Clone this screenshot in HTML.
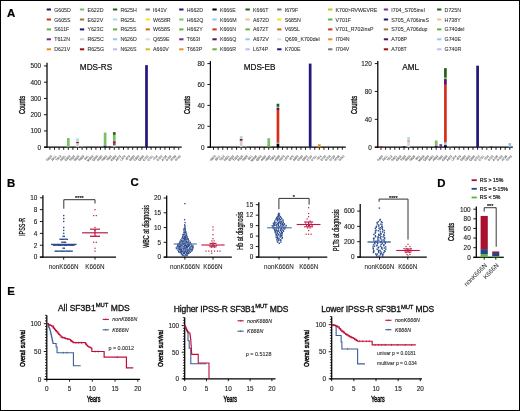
<!DOCTYPE html>
<html><head><meta charset="utf-8"><style>
html,body{margin:0;padding:0;background:#fff;}
svg{display:block;font-family:"Liberation Sans", sans-serif;will-change:transform;}
</style></head><body>
<svg width="520" height="411" viewBox="0 0 520 411" font-family='"Liberation Sans", sans-serif'>
<rect x="0" y="0" width="520" height="411" fill="#fff"/>
<g>
<rect x="0.5" y="0.5" width="519" height="410" fill="#fff" stroke="#000" stroke-width="1"/>
<text x="7.00" y="16.50" font-size="11.4" text-anchor="start" fill="#000" font-weight="bold" stroke="#000" stroke-width="0.22" >A</text>
<text x="7.00" y="186.60" font-size="11.4" text-anchor="start" fill="#000" font-weight="bold" stroke="#000" stroke-width="0.22" >B</text>
<text x="130.40" y="186.40" font-size="11.4" text-anchor="start" fill="#000" font-weight="bold" stroke="#000" stroke-width="0.22" >C</text>
<text x="437.20" y="187.00" font-size="11.4" text-anchor="start" fill="#000" font-weight="bold" stroke="#000" stroke-width="0.22" >D</text>
<text x="7.30" y="294.80" font-size="11.4" text-anchor="start" fill="#000" font-weight="bold" stroke="#000" stroke-width="0.22" >E</text>
<rect x="46.70" y="8.50" width="4.30" height="2.00" fill="#22177a"/>
<text x="54.20" y="11.50" font-size="5.25" text-anchor="start" fill="#2a2a2a" font-weight="normal" stroke="#2a2a2a" stroke-width="0.06" >G605D</text>
<rect x="46.70" y="18.50" width="4.30" height="2.00" fill="#d6301c"/>
<text x="54.20" y="21.50" font-size="5.25" text-anchor="start" fill="#2a2a2a" font-weight="normal" stroke="#2a2a2a" stroke-width="0.06" >G605S</text>
<rect x="46.70" y="28.40" width="4.30" height="2.00" fill="#62b23e"/>
<text x="54.20" y="31.40" font-size="5.25" text-anchor="start" fill="#2a2a2a" font-weight="normal" stroke="#2a2a2a" stroke-width="0.06" >S611F</text>
<rect x="46.70" y="38.30" width="4.30" height="2.00" fill="#7a2c9c"/>
<text x="54.20" y="41.30" font-size="5.25" text-anchor="start" fill="#2a2a2a" font-weight="normal" stroke="#2a2a2a" stroke-width="0.06" >T612N</text>
<rect x="46.70" y="48.30" width="4.30" height="2.00" fill="#e8901c"/>
<text x="54.20" y="51.30" font-size="5.25" text-anchor="start" fill="#2a2a2a" font-weight="normal" stroke="#2a2a2a" stroke-width="0.06" >D621V</text>
<rect x="79.90" y="8.50" width="4.30" height="2.00" fill="#7cc064"/>
<text x="87.40" y="11.50" font-size="5.25" text-anchor="start" fill="#2a2a2a" font-weight="normal" stroke="#2a2a2a" stroke-width="0.06" >E622D</text>
<rect x="79.90" y="18.50" width="4.30" height="2.00" fill="#a0783a"/>
<text x="87.40" y="21.50" font-size="5.25" text-anchor="start" fill="#2a2a2a" font-weight="normal" stroke="#2a2a2a" stroke-width="0.06" >E622V</text>
<rect x="79.90" y="28.40" width="4.30" height="2.00" fill="#22177a"/>
<text x="87.40" y="31.40" font-size="5.25" text-anchor="start" fill="#2a2a2a" font-weight="normal" stroke="#2a2a2a" stroke-width="0.06" >Y623C</text>
<rect x="79.90" y="38.30" width="4.30" height="2.00" fill="#cfcfcf"/>
<text x="87.40" y="41.30" font-size="5.25" text-anchor="start" fill="#2a2a2a" font-weight="normal" stroke="#2a2a2a" stroke-width="0.06" >R625C</text>
<rect x="79.90" y="48.30" width="4.30" height="2.00" fill="#960f0f"/>
<text x="87.40" y="51.30" font-size="5.25" text-anchor="start" fill="#2a2a2a" font-weight="normal" stroke="#2a2a2a" stroke-width="0.06" >R625G</text>
<rect x="112.90" y="8.50" width="4.30" height="2.00" fill="#25601c"/>
<text x="120.40" y="11.50" font-size="5.25" text-anchor="start" fill="#2a2a2a" font-weight="normal" stroke="#2a2a2a" stroke-width="0.06" >R625H</text>
<rect x="112.90" y="18.50" width="4.30" height="2.00" fill="#a9dde6"/>
<text x="120.40" y="21.50" font-size="5.25" text-anchor="start" fill="#2a2a2a" font-weight="normal" stroke="#2a2a2a" stroke-width="0.06" >R625L</text>
<rect x="112.90" y="28.40" width="4.30" height="2.00" fill="#62b23e"/>
<text x="120.40" y="31.40" font-size="5.25" text-anchor="start" fill="#2a2a2a" font-weight="normal" stroke="#2a2a2a" stroke-width="0.06" >R625S</text>
<rect x="112.90" y="38.30" width="4.30" height="2.00" fill="#9cc2ee"/>
<text x="120.40" y="41.30" font-size="5.25" text-anchor="start" fill="#2a2a2a" font-weight="normal" stroke="#2a2a2a" stroke-width="0.06" >N626D</text>
<rect x="112.90" y="48.30" width="4.30" height="2.00" fill="#bdbdf0"/>
<text x="120.40" y="51.30" font-size="5.25" text-anchor="start" fill="#2a2a2a" font-weight="normal" stroke="#2a2a2a" stroke-width="0.06" >N626S</text>
<rect x="145.60" y="8.50" width="4.30" height="2.00" fill="#777777"/>
<text x="153.10" y="11.50" font-size="5.25" text-anchor="start" fill="#2a2a2a" font-weight="normal" stroke="#2a2a2a" stroke-width="0.06" >I641V</text>
<rect x="145.60" y="18.50" width="4.30" height="2.00" fill="#f4e214"/>
<text x="153.10" y="21.50" font-size="5.25" text-anchor="start" fill="#2a2a2a" font-weight="normal" stroke="#2a2a2a" stroke-width="0.06" >W658R</text>
<rect x="145.60" y="28.40" width="4.30" height="2.00" fill="#c4701e"/>
<text x="153.10" y="31.40" font-size="5.25" text-anchor="start" fill="#2a2a2a" font-weight="normal" stroke="#2a2a2a" stroke-width="0.06" >W658S</text>
<rect x="145.60" y="38.30" width="4.30" height="2.00" fill="#dddddd"/>
<text x="153.10" y="41.30" font-size="5.25" text-anchor="start" fill="#2a2a2a" font-weight="normal" stroke="#2a2a2a" stroke-width="0.06" >Q659E</text>
<rect x="145.60" y="48.30" width="4.30" height="2.00" fill="#c8c21e"/>
<text x="153.10" y="51.30" font-size="5.25" text-anchor="start" fill="#2a2a2a" font-weight="normal" stroke="#2a2a2a" stroke-width="0.06" >A660V</text>
<rect x="179.20" y="8.50" width="4.30" height="2.00" fill="#22177a"/>
<text x="186.70" y="11.50" font-size="5.25" text-anchor="start" fill="#2a2a2a" font-weight="normal" stroke="#2a2a2a" stroke-width="0.06" >H662D</text>
<rect x="179.20" y="18.50" width="4.30" height="2.00" fill="#7cc064"/>
<text x="186.70" y="21.50" font-size="5.25" text-anchor="start" fill="#2a2a2a" font-weight="normal" stroke="#2a2a2a" stroke-width="0.06" >H662Q</text>
<rect x="179.20" y="28.40" width="4.30" height="2.00" fill="#62b23e"/>
<text x="186.70" y="31.40" font-size="5.25" text-anchor="start" fill="#2a2a2a" font-weight="normal" stroke="#2a2a2a" stroke-width="0.06" >H662Y</text>
<rect x="179.20" y="38.30" width="4.30" height="2.00" fill="#7a2c9c"/>
<text x="186.70" y="41.30" font-size="5.25" text-anchor="start" fill="#2a2a2a" font-weight="normal" stroke="#2a2a2a" stroke-width="0.06" >T663I</text>
<rect x="179.20" y="48.30" width="4.30" height="2.00" fill="#e8901c"/>
<text x="186.70" y="51.30" font-size="5.25" text-anchor="start" fill="#2a2a2a" font-weight="normal" stroke="#2a2a2a" stroke-width="0.06" >T663P</text>
<rect x="212.40" y="8.50" width="4.30" height="2.00" fill="#000000"/>
<text x="219.90" y="11.50" font-size="5.25" text-anchor="start" fill="#2a2a2a" font-weight="normal" stroke="#2a2a2a" stroke-width="0.06" >K666E</text>
<rect x="212.40" y="18.50" width="4.30" height="2.00" fill="#8ccaf2"/>
<text x="219.90" y="21.50" font-size="5.25" text-anchor="start" fill="#2a2a2a" font-weight="normal" stroke="#2a2a2a" stroke-width="0.06" >K666M</text>
<rect x="212.40" y="28.40" width="4.30" height="2.00" fill="#d6301c"/>
<text x="219.90" y="31.40" font-size="5.25" text-anchor="start" fill="#2a2a2a" font-weight="normal" stroke="#2a2a2a" stroke-width="0.06" >K666N</text>
<rect x="212.40" y="38.30" width="4.30" height="2.00" fill="#5a0f6a"/>
<text x="219.90" y="41.30" font-size="5.25" text-anchor="start" fill="#2a2a2a" font-weight="normal" stroke="#2a2a2a" stroke-width="0.06" >K666Q</text>
<rect x="212.40" y="48.30" width="4.30" height="2.00" fill="#62b23e"/>
<text x="219.90" y="51.30" font-size="5.25" text-anchor="start" fill="#2a2a2a" font-weight="normal" stroke="#2a2a2a" stroke-width="0.06" >K666R</text>
<rect x="245.50" y="8.50" width="4.30" height="2.00" fill="#25601c"/>
<text x="253.00" y="11.50" font-size="5.25" text-anchor="start" fill="#2a2a2a" font-weight="normal" stroke="#2a2a2a" stroke-width="0.06" >K666T</text>
<rect x="245.50" y="18.50" width="4.30" height="2.00" fill="#f2c28e"/>
<text x="253.00" y="21.50" font-size="5.25" text-anchor="start" fill="#2a2a2a" font-weight="normal" stroke="#2a2a2a" stroke-width="0.06" >A672D</text>
<rect x="245.50" y="28.40" width="4.30" height="2.00" fill="#62b23e"/>
<text x="253.00" y="31.40" font-size="5.25" text-anchor="start" fill="#2a2a2a" font-weight="normal" stroke="#2a2a2a" stroke-width="0.06" >A672T</text>
<rect x="245.50" y="38.30" width="4.30" height="2.00" fill="#9cc2ee"/>
<text x="253.00" y="41.30" font-size="5.25" text-anchor="start" fill="#2a2a2a" font-weight="normal" stroke="#2a2a2a" stroke-width="0.06" >A672V</text>
<rect x="245.50" y="48.30" width="4.30" height="2.00" fill="#bdbdf0"/>
<text x="253.00" y="51.30" font-size="5.25" text-anchor="start" fill="#2a2a2a" font-weight="normal" stroke="#2a2a2a" stroke-width="0.06" >L674P</text>
<rect x="277.20" y="8.50" width="4.30" height="2.00" fill="#777777"/>
<text x="284.70" y="11.50" font-size="5.25" text-anchor="start" fill="#2a2a2a" font-weight="normal" stroke="#2a2a2a" stroke-width="0.06" >I679F</text>
<rect x="277.20" y="18.50" width="4.30" height="2.00" fill="#f4e214"/>
<text x="284.70" y="21.50" font-size="5.25" text-anchor="start" fill="#2a2a2a" font-weight="normal" stroke="#2a2a2a" stroke-width="0.06" >S685N</text>
<rect x="277.20" y="28.40" width="4.30" height="2.00" fill="#c4701e"/>
<text x="284.70" y="31.40" font-size="5.25" text-anchor="start" fill="#2a2a2a" font-weight="normal" stroke="#2a2a2a" stroke-width="0.06" >V695L</text>
<rect x="277.20" y="38.30" width="4.30" height="2.00" fill="#dddddd"/>
<text x="284.70" y="41.30" font-size="5.25" text-anchor="start" fill="#2a2a2a" font-weight="normal" stroke="#2a2a2a" stroke-width="0.06" >Q699_K700del</text>
<rect x="277.20" y="48.30" width="4.30" height="2.00" fill="#22177a"/>
<text x="284.70" y="51.30" font-size="5.25" text-anchor="start" fill="#2a2a2a" font-weight="normal" stroke="#2a2a2a" stroke-width="0.06" >K700E</text>
<rect x="328.10" y="8.50" width="4.30" height="2.00" fill="#c8c21e"/>
<text x="335.60" y="11.50" font-size="5.25" text-anchor="start" fill="#2a2a2a" font-weight="normal" stroke="#2a2a2a" stroke-width="0.06" >K700&gt;RVWEVRE</text>
<rect x="328.10" y="18.50" width="4.30" height="2.00" fill="#62b23e"/>
<text x="335.60" y="21.50" font-size="5.25" text-anchor="start" fill="#2a2a2a" font-weight="normal" stroke="#2a2a2a" stroke-width="0.06" >V701F</text>
<rect x="328.10" y="28.40" width="4.30" height="2.00" fill="#d6301c"/>
<text x="335.60" y="31.40" font-size="5.25" text-anchor="start" fill="#2a2a2a" font-weight="normal" stroke="#2a2a2a" stroke-width="0.06" >V701_R702insP</text>
<rect x="328.10" y="38.30" width="4.30" height="2.00" fill="#e8901c"/>
<text x="335.60" y="41.30" font-size="5.25" text-anchor="start" fill="#2a2a2a" font-weight="normal" stroke="#2a2a2a" stroke-width="0.06" >I704N</text>
<rect x="328.10" y="48.30" width="4.30" height="2.00" fill="#777777"/>
<text x="335.60" y="51.30" font-size="5.25" text-anchor="start" fill="#2a2a2a" font-weight="normal" stroke="#2a2a2a" stroke-width="0.06" >I704V</text>
<rect x="383.80" y="8.50" width="4.30" height="2.00" fill="#7a2c9c"/>
<text x="391.30" y="11.50" font-size="5.25" text-anchor="start" fill="#2a2a2a" font-weight="normal" stroke="#2a2a2a" stroke-width="0.06" >I704_S705insI</text>
<rect x="383.80" y="18.50" width="4.30" height="2.00" fill="#22177a"/>
<text x="391.30" y="21.50" font-size="5.25" text-anchor="start" fill="#2a2a2a" font-weight="normal" stroke="#2a2a2a" stroke-width="0.06" >S705_A706insS</text>
<rect x="383.80" y="28.40" width="4.30" height="2.00" fill="#a0783a"/>
<text x="391.30" y="31.40" font-size="5.25" text-anchor="start" fill="#2a2a2a" font-weight="normal" stroke="#2a2a2a" stroke-width="0.06" >S705_A706dup</text>
<rect x="383.80" y="38.30" width="4.30" height="2.00" fill="#5a0f6a"/>
<text x="391.30" y="41.30" font-size="5.25" text-anchor="start" fill="#2a2a2a" font-weight="normal" stroke="#2a2a2a" stroke-width="0.06" >A708P</text>
<rect x="383.80" y="48.30" width="4.30" height="2.00" fill="#960f0f"/>
<text x="391.30" y="51.30" font-size="5.25" text-anchor="start" fill="#2a2a2a" font-weight="normal" stroke="#2a2a2a" stroke-width="0.06" >A708T</text>
<rect x="437.10" y="8.50" width="4.30" height="2.00" fill="#25601c"/>
<text x="444.60" y="11.50" font-size="5.25" text-anchor="start" fill="#2a2a2a" font-weight="normal" stroke="#2a2a2a" stroke-width="0.06" >D725N</text>
<rect x="437.10" y="18.50" width="4.30" height="2.00" fill="#f2c28e"/>
<text x="444.60" y="21.50" font-size="5.25" text-anchor="start" fill="#2a2a2a" font-weight="normal" stroke="#2a2a2a" stroke-width="0.06" >H738Y</text>
<rect x="437.10" y="28.40" width="4.30" height="2.00" fill="#62b23e"/>
<text x="444.60" y="31.40" font-size="5.25" text-anchor="start" fill="#2a2a2a" font-weight="normal" stroke="#2a2a2a" stroke-width="0.06" >G740del</text>
<rect x="437.10" y="38.30" width="4.30" height="2.00" fill="#9cc2ee"/>
<text x="444.60" y="41.30" font-size="5.25" text-anchor="start" fill="#2a2a2a" font-weight="normal" stroke="#2a2a2a" stroke-width="0.06" >G740E</text>
<rect x="437.10" y="48.30" width="4.30" height="2.00" fill="#bdbdf0"/>
<text x="444.60" y="51.30" font-size="5.25" text-anchor="start" fill="#2a2a2a" font-weight="normal" stroke="#2a2a2a" stroke-width="0.06" >G740R</text>
<line x1="47.00" y1="62.80" x2="47.00" y2="147.70" stroke="#000" stroke-width="1.25" />
<line x1="44.00" y1="147.20" x2="47.00" y2="147.20" stroke="#000" stroke-width="0.9" />
<text x="41.10" y="149.60" font-size="6.4" text-anchor="end" fill="#222" font-weight="normal" stroke="#222" stroke-width="0.12" >0</text>
<line x1="44.00" y1="130.95" x2="47.00" y2="130.95" stroke="#000" stroke-width="0.9" />
<text x="41.10" y="133.35" font-size="6.4" text-anchor="end" fill="#222" font-weight="normal" stroke="#222" stroke-width="0.12" >100</text>
<line x1="44.00" y1="114.70" x2="47.00" y2="114.70" stroke="#000" stroke-width="0.9" />
<text x="41.10" y="117.10" font-size="6.4" text-anchor="end" fill="#222" font-weight="normal" stroke="#222" stroke-width="0.12" >200</text>
<line x1="44.00" y1="98.45" x2="47.00" y2="98.45" stroke="#000" stroke-width="0.9" />
<text x="41.10" y="100.85" font-size="6.4" text-anchor="end" fill="#222" font-weight="normal" stroke="#222" stroke-width="0.12" >300</text>
<line x1="44.00" y1="82.20" x2="47.00" y2="82.20" stroke="#000" stroke-width="0.9" />
<text x="41.10" y="84.60" font-size="6.4" text-anchor="end" fill="#222" font-weight="normal" stroke="#222" stroke-width="0.12" >400</text>
<line x1="44.00" y1="65.95" x2="47.00" y2="65.95" stroke="#000" stroke-width="0.9" />
<text x="41.10" y="68.35" font-size="6.4" text-anchor="end" fill="#222" font-weight="normal" stroke="#222" stroke-width="0.12" >500</text>
<line x1="44.00" y1="147.20" x2="181.70" y2="147.20" stroke="#000" stroke-width="1.25" />
<line x1="49.90" y1="147.20" x2="49.90" y2="149.80" stroke="#000" stroke-width="0.9" />
<text transform="translate(52.10,156.50) rotate(-45)" x="0" y="0" font-size="2.8" text-anchor="end" fill="#666" stroke="#666" stroke-width="0.12">G605</text>
<line x1="54.50" y1="147.20" x2="54.50" y2="149.80" stroke="#000" stroke-width="0.9" />
<text transform="translate(56.70,156.50) rotate(-45)" x="0" y="0" font-size="2.8" text-anchor="end" fill="#666" stroke="#666" stroke-width="0.12">S611</text>
<line x1="59.10" y1="147.20" x2="59.10" y2="149.80" stroke="#000" stroke-width="0.9" />
<text transform="translate(61.30,156.50) rotate(-45)" x="0" y="0" font-size="2.8" text-anchor="end" fill="#666" stroke="#666" stroke-width="0.12">T612</text>
<line x1="63.70" y1="147.20" x2="63.70" y2="149.80" stroke="#000" stroke-width="0.9" />
<text transform="translate(65.90,156.50) rotate(-45)" x="0" y="0" font-size="2.8" text-anchor="end" fill="#666" stroke="#666" stroke-width="0.12">D621</text>
<line x1="68.30" y1="147.20" x2="68.30" y2="149.80" stroke="#000" stroke-width="0.9" />
<text transform="translate(70.50,156.50) rotate(-45)" x="0" y="0" font-size="2.8" text-anchor="end" fill="#666" stroke="#666" stroke-width="0.12">E622</text>
<line x1="72.90" y1="147.20" x2="72.90" y2="149.80" stroke="#000" stroke-width="0.9" />
<text transform="translate(75.10,156.50) rotate(-45)" x="0" y="0" font-size="2.8" text-anchor="end" fill="#666" stroke="#666" stroke-width="0.12">Y623</text>
<line x1="77.50" y1="147.20" x2="77.50" y2="149.80" stroke="#000" stroke-width="0.9" />
<text transform="translate(79.70,156.50) rotate(-45)" x="0" y="0" font-size="2.8" text-anchor="end" fill="#666" stroke="#666" stroke-width="0.12">R625</text>
<line x1="82.10" y1="147.20" x2="82.10" y2="149.80" stroke="#000" stroke-width="0.9" />
<text transform="translate(84.30,156.50) rotate(-45)" x="0" y="0" font-size="2.8" text-anchor="end" fill="#666" stroke="#666" stroke-width="0.12">N626</text>
<line x1="86.70" y1="147.20" x2="86.70" y2="149.80" stroke="#000" stroke-width="0.9" />
<text transform="translate(88.90,156.50) rotate(-45)" x="0" y="0" font-size="2.8" text-anchor="end" fill="#666" stroke="#666" stroke-width="0.12">I641</text>
<line x1="91.30" y1="147.20" x2="91.30" y2="149.80" stroke="#000" stroke-width="0.9" />
<text transform="translate(93.50,156.50) rotate(-45)" x="0" y="0" font-size="2.8" text-anchor="end" fill="#666" stroke="#666" stroke-width="0.12">W658</text>
<line x1="95.90" y1="147.20" x2="95.90" y2="149.80" stroke="#000" stroke-width="0.9" />
<text transform="translate(98.10,156.50) rotate(-45)" x="0" y="0" font-size="2.8" text-anchor="end" fill="#666" stroke="#666" stroke-width="0.12">Q659</text>
<line x1="100.50" y1="147.20" x2="100.50" y2="149.80" stroke="#000" stroke-width="0.9" />
<text transform="translate(102.70,156.50) rotate(-45)" x="0" y="0" font-size="2.8" text-anchor="end" fill="#666" stroke="#666" stroke-width="0.12">A660</text>
<line x1="105.10" y1="147.20" x2="105.10" y2="149.80" stroke="#000" stroke-width="0.9" />
<text transform="translate(107.30,156.50) rotate(-45)" x="0" y="0" font-size="2.8" text-anchor="end" fill="#666" stroke="#666" stroke-width="0.12">H662</text>
<line x1="109.70" y1="147.20" x2="109.70" y2="149.80" stroke="#000" stroke-width="0.9" />
<text transform="translate(111.90,156.50) rotate(-45)" x="0" y="0" font-size="2.8" text-anchor="end" fill="#666" stroke="#666" stroke-width="0.12">T663</text>
<line x1="114.30" y1="147.20" x2="114.30" y2="149.80" stroke="#000" stroke-width="0.9" />
<text transform="translate(116.50,156.50) rotate(-45)" x="0" y="0" font-size="2.8" text-anchor="end" fill="#666" stroke="#666" stroke-width="0.12">K666</text>
<line x1="118.90" y1="147.20" x2="118.90" y2="149.80" stroke="#000" stroke-width="0.9" />
<text transform="translate(121.10,156.50) rotate(-45)" x="0" y="0" font-size="2.8" text-anchor="end" fill="#666" stroke="#666" stroke-width="0.12">A672</text>
<line x1="123.50" y1="147.20" x2="123.50" y2="149.80" stroke="#000" stroke-width="0.9" />
<text transform="translate(125.70,156.50) rotate(-45)" x="0" y="0" font-size="2.8" text-anchor="end" fill="#666" stroke="#666" stroke-width="0.12">L674</text>
<line x1="128.10" y1="147.20" x2="128.10" y2="149.80" stroke="#000" stroke-width="0.9" />
<text transform="translate(130.30,156.50) rotate(-45)" x="0" y="0" font-size="2.8" text-anchor="end" fill="#666" stroke="#666" stroke-width="0.12">I679</text>
<line x1="132.70" y1="147.20" x2="132.70" y2="149.80" stroke="#000" stroke-width="0.9" />
<text transform="translate(134.90,156.50) rotate(-45)" x="0" y="0" font-size="2.8" text-anchor="end" fill="#666" stroke="#666" stroke-width="0.12">S685</text>
<line x1="137.30" y1="147.20" x2="137.30" y2="149.80" stroke="#000" stroke-width="0.9" />
<text transform="translate(139.50,156.50) rotate(-45)" x="0" y="0" font-size="2.8" text-anchor="end" fill="#666" stroke="#666" stroke-width="0.12">V695</text>
<line x1="141.90" y1="147.20" x2="141.90" y2="149.80" stroke="#000" stroke-width="0.9" />
<text transform="translate(144.10,156.50) rotate(-45)" x="0" y="0" font-size="2.8" text-anchor="end" fill="#666" stroke="#666" stroke-width="0.12">Q699</text>
<line x1="146.50" y1="147.20" x2="146.50" y2="149.80" stroke="#000" stroke-width="0.9" />
<text transform="translate(148.70,156.50) rotate(-45)" x="0" y="0" font-size="2.8" text-anchor="end" fill="#666" stroke="#666" stroke-width="0.12">K700</text>
<line x1="151.10" y1="147.20" x2="151.10" y2="149.80" stroke="#000" stroke-width="0.9" />
<text transform="translate(153.30,156.50) rotate(-45)" x="0" y="0" font-size="2.8" text-anchor="end" fill="#666" stroke="#666" stroke-width="0.12">V701</text>
<line x1="155.70" y1="147.20" x2="155.70" y2="149.80" stroke="#000" stroke-width="0.9" />
<text transform="translate(157.90,156.50) rotate(-45)" x="0" y="0" font-size="2.8" text-anchor="end" fill="#666" stroke="#666" stroke-width="0.12">I704</text>
<line x1="160.30" y1="147.20" x2="160.30" y2="149.80" stroke="#000" stroke-width="0.9" />
<text transform="translate(162.50,156.50) rotate(-45)" x="0" y="0" font-size="2.8" text-anchor="end" fill="#666" stroke="#666" stroke-width="0.12">S705</text>
<line x1="164.90" y1="147.20" x2="164.90" y2="149.80" stroke="#000" stroke-width="0.9" />
<text transform="translate(167.10,156.50) rotate(-45)" x="0" y="0" font-size="2.8" text-anchor="end" fill="#666" stroke="#666" stroke-width="0.12">A708</text>
<line x1="169.50" y1="147.20" x2="169.50" y2="149.80" stroke="#000" stroke-width="0.9" />
<text transform="translate(171.70,156.50) rotate(-45)" x="0" y="0" font-size="2.8" text-anchor="end" fill="#666" stroke="#666" stroke-width="0.12">D725</text>
<line x1="174.10" y1="147.20" x2="174.10" y2="149.80" stroke="#000" stroke-width="0.9" />
<text transform="translate(176.30,156.50) rotate(-45)" x="0" y="0" font-size="2.8" text-anchor="end" fill="#666" stroke="#666" stroke-width="0.12">H738</text>
<line x1="178.70" y1="147.20" x2="178.70" y2="149.80" stroke="#000" stroke-width="0.9" />
<text transform="translate(180.90,156.50) rotate(-45)" x="0" y="0" font-size="2.8" text-anchor="end" fill="#666" stroke="#666" stroke-width="0.12">G740</text>
<rect x="66.95" y="138.10" width="2.70" height="9.10" fill="#7cc064"/>
<rect x="76.15" y="143.14" width="2.70" height="4.06" fill="#cfcfcf"/>
<rect x="76.15" y="142.00" width="2.70" height="1.14" fill="#960f0f"/>
<rect x="76.15" y="138.43" width="2.70" height="3.58" fill="#a9dde6"/>
<rect x="80.75" y="146.55" width="2.70" height="0.65" fill="#9cc2ee"/>
<rect x="103.75" y="145.57" width="2.70" height="1.62" fill="#22177a"/>
<rect x="103.75" y="132.57" width="2.70" height="13.00" fill="#7cc064"/>
<rect x="108.35" y="146.55" width="2.70" height="0.65" fill="#960f0f"/>
<rect x="112.95" y="145.01" width="2.70" height="2.19" fill="#8ccaf2"/>
<rect x="112.95" y="142.89" width="2.70" height="2.11" fill="#d6301c"/>
<rect x="112.95" y="141.19" width="2.70" height="1.71" fill="#5a0f6a"/>
<rect x="112.95" y="134.85" width="2.70" height="6.34" fill="#7cc064"/>
<rect x="112.95" y="132.15" width="2.70" height="2.70" fill="#25601c"/>
<rect x="145.15" y="65.14" width="2.70" height="82.06" fill="#22177a"/>
<rect x="177.35" y="146.71" width="2.70" height="0.49" fill="#9cc2ee"/>
<text x="96.00" y="69.60" font-size="8.2" text-anchor="middle" fill="#111" font-weight="normal" stroke="#111" stroke-width="0.2" >MDS-RS</text>
<text transform="translate(22.00,105.00) rotate(-90) scale(0.645,1)" x="0" y="3.17" font-size="8.8" text-anchor="middle" fill="#111" stroke="#111" stroke-width="0.4">Counts</text>
<line x1="210.40" y1="61.10" x2="210.40" y2="147.70" stroke="#000" stroke-width="1.25" />
<line x1="207.40" y1="147.20" x2="210.40" y2="147.20" stroke="#000" stroke-width="0.9" />
<text x="204.50" y="149.60" font-size="6.4" text-anchor="end" fill="#222" font-weight="normal" stroke="#222" stroke-width="0.12" >0</text>
<line x1="207.40" y1="126.30" x2="210.40" y2="126.30" stroke="#000" stroke-width="0.9" />
<text x="204.50" y="128.70" font-size="6.4" text-anchor="end" fill="#222" font-weight="normal" stroke="#222" stroke-width="0.12" >20</text>
<line x1="207.40" y1="105.40" x2="210.40" y2="105.40" stroke="#000" stroke-width="0.9" />
<text x="204.50" y="107.80" font-size="6.4" text-anchor="end" fill="#222" font-weight="normal" stroke="#222" stroke-width="0.12" >40</text>
<line x1="207.40" y1="84.50" x2="210.40" y2="84.50" stroke="#000" stroke-width="0.9" />
<text x="204.50" y="86.90" font-size="6.4" text-anchor="end" fill="#222" font-weight="normal" stroke="#222" stroke-width="0.12" >60</text>
<line x1="207.40" y1="63.60" x2="210.40" y2="63.60" stroke="#000" stroke-width="0.9" />
<text x="204.50" y="66.00" font-size="6.4" text-anchor="end" fill="#222" font-weight="normal" stroke="#222" stroke-width="0.12" >80</text>
<line x1="207.40" y1="147.20" x2="345.80" y2="147.20" stroke="#000" stroke-width="1.25" />
<line x1="213.55" y1="147.20" x2="213.55" y2="149.80" stroke="#000" stroke-width="0.9" />
<text transform="translate(215.75,156.50) rotate(-45)" x="0" y="0" font-size="2.8" text-anchor="end" fill="#666" stroke="#666" stroke-width="0.12">G605</text>
<line x1="218.15" y1="147.20" x2="218.15" y2="149.80" stroke="#000" stroke-width="0.9" />
<text transform="translate(220.35,156.50) rotate(-45)" x="0" y="0" font-size="2.8" text-anchor="end" fill="#666" stroke="#666" stroke-width="0.12">S611</text>
<line x1="222.75" y1="147.20" x2="222.75" y2="149.80" stroke="#000" stroke-width="0.9" />
<text transform="translate(224.95,156.50) rotate(-45)" x="0" y="0" font-size="2.8" text-anchor="end" fill="#666" stroke="#666" stroke-width="0.12">T612</text>
<line x1="227.35" y1="147.20" x2="227.35" y2="149.80" stroke="#000" stroke-width="0.9" />
<text transform="translate(229.55,156.50) rotate(-45)" x="0" y="0" font-size="2.8" text-anchor="end" fill="#666" stroke="#666" stroke-width="0.12">D621</text>
<line x1="231.95" y1="147.20" x2="231.95" y2="149.80" stroke="#000" stroke-width="0.9" />
<text transform="translate(234.15,156.50) rotate(-45)" x="0" y="0" font-size="2.8" text-anchor="end" fill="#666" stroke="#666" stroke-width="0.12">E622</text>
<line x1="236.55" y1="147.20" x2="236.55" y2="149.80" stroke="#000" stroke-width="0.9" />
<text transform="translate(238.75,156.50) rotate(-45)" x="0" y="0" font-size="2.8" text-anchor="end" fill="#666" stroke="#666" stroke-width="0.12">Y623</text>
<line x1="241.15" y1="147.20" x2="241.15" y2="149.80" stroke="#000" stroke-width="0.9" />
<text transform="translate(243.35,156.50) rotate(-45)" x="0" y="0" font-size="2.8" text-anchor="end" fill="#666" stroke="#666" stroke-width="0.12">R625</text>
<line x1="245.75" y1="147.20" x2="245.75" y2="149.80" stroke="#000" stroke-width="0.9" />
<text transform="translate(247.95,156.50) rotate(-45)" x="0" y="0" font-size="2.8" text-anchor="end" fill="#666" stroke="#666" stroke-width="0.12">N626</text>
<line x1="250.35" y1="147.20" x2="250.35" y2="149.80" stroke="#000" stroke-width="0.9" />
<text transform="translate(252.55,156.50) rotate(-45)" x="0" y="0" font-size="2.8" text-anchor="end" fill="#666" stroke="#666" stroke-width="0.12">I641</text>
<line x1="254.95" y1="147.20" x2="254.95" y2="149.80" stroke="#000" stroke-width="0.9" />
<text transform="translate(257.15,156.50) rotate(-45)" x="0" y="0" font-size="2.8" text-anchor="end" fill="#666" stroke="#666" stroke-width="0.12">W658</text>
<line x1="259.55" y1="147.20" x2="259.55" y2="149.80" stroke="#000" stroke-width="0.9" />
<text transform="translate(261.75,156.50) rotate(-45)" x="0" y="0" font-size="2.8" text-anchor="end" fill="#666" stroke="#666" stroke-width="0.12">Q659</text>
<line x1="264.15" y1="147.20" x2="264.15" y2="149.80" stroke="#000" stroke-width="0.9" />
<text transform="translate(266.35,156.50) rotate(-45)" x="0" y="0" font-size="2.8" text-anchor="end" fill="#666" stroke="#666" stroke-width="0.12">A660</text>
<line x1="268.75" y1="147.20" x2="268.75" y2="149.80" stroke="#000" stroke-width="0.9" />
<text transform="translate(270.95,156.50) rotate(-45)" x="0" y="0" font-size="2.8" text-anchor="end" fill="#666" stroke="#666" stroke-width="0.12">H662</text>
<line x1="273.35" y1="147.20" x2="273.35" y2="149.80" stroke="#000" stroke-width="0.9" />
<text transform="translate(275.55,156.50) rotate(-45)" x="0" y="0" font-size="2.8" text-anchor="end" fill="#666" stroke="#666" stroke-width="0.12">T663</text>
<line x1="277.95" y1="147.20" x2="277.95" y2="149.80" stroke="#000" stroke-width="0.9" />
<text transform="translate(280.15,156.50) rotate(-45)" x="0" y="0" font-size="2.8" text-anchor="end" fill="#666" stroke="#666" stroke-width="0.12">K666</text>
<line x1="282.55" y1="147.20" x2="282.55" y2="149.80" stroke="#000" stroke-width="0.9" />
<text transform="translate(284.75,156.50) rotate(-45)" x="0" y="0" font-size="2.8" text-anchor="end" fill="#666" stroke="#666" stroke-width="0.12">A672</text>
<line x1="287.15" y1="147.20" x2="287.15" y2="149.80" stroke="#000" stroke-width="0.9" />
<text transform="translate(289.35,156.50) rotate(-45)" x="0" y="0" font-size="2.8" text-anchor="end" fill="#666" stroke="#666" stroke-width="0.12">L674</text>
<line x1="291.75" y1="147.20" x2="291.75" y2="149.80" stroke="#000" stroke-width="0.9" />
<text transform="translate(293.95,156.50) rotate(-45)" x="0" y="0" font-size="2.8" text-anchor="end" fill="#666" stroke="#666" stroke-width="0.12">I679</text>
<line x1="296.35" y1="147.20" x2="296.35" y2="149.80" stroke="#000" stroke-width="0.9" />
<text transform="translate(298.55,156.50) rotate(-45)" x="0" y="0" font-size="2.8" text-anchor="end" fill="#666" stroke="#666" stroke-width="0.12">S685</text>
<line x1="300.95" y1="147.20" x2="300.95" y2="149.80" stroke="#000" stroke-width="0.9" />
<text transform="translate(303.15,156.50) rotate(-45)" x="0" y="0" font-size="2.8" text-anchor="end" fill="#666" stroke="#666" stroke-width="0.12">V695</text>
<line x1="305.55" y1="147.20" x2="305.55" y2="149.80" stroke="#000" stroke-width="0.9" />
<text transform="translate(307.75,156.50) rotate(-45)" x="0" y="0" font-size="2.8" text-anchor="end" fill="#666" stroke="#666" stroke-width="0.12">Q699</text>
<line x1="310.15" y1="147.20" x2="310.15" y2="149.80" stroke="#000" stroke-width="0.9" />
<text transform="translate(312.35,156.50) rotate(-45)" x="0" y="0" font-size="2.8" text-anchor="end" fill="#666" stroke="#666" stroke-width="0.12">K700</text>
<line x1="314.75" y1="147.20" x2="314.75" y2="149.80" stroke="#000" stroke-width="0.9" />
<text transform="translate(316.95,156.50) rotate(-45)" x="0" y="0" font-size="2.8" text-anchor="end" fill="#666" stroke="#666" stroke-width="0.12">V701</text>
<line x1="319.35" y1="147.20" x2="319.35" y2="149.80" stroke="#000" stroke-width="0.9" />
<text transform="translate(321.55,156.50) rotate(-45)" x="0" y="0" font-size="2.8" text-anchor="end" fill="#666" stroke="#666" stroke-width="0.12">I704</text>
<line x1="323.95" y1="147.20" x2="323.95" y2="149.80" stroke="#000" stroke-width="0.9" />
<text transform="translate(326.15,156.50) rotate(-45)" x="0" y="0" font-size="2.8" text-anchor="end" fill="#666" stroke="#666" stroke-width="0.12">S705</text>
<line x1="328.55" y1="147.20" x2="328.55" y2="149.80" stroke="#000" stroke-width="0.9" />
<text transform="translate(330.75,156.50) rotate(-45)" x="0" y="0" font-size="2.8" text-anchor="end" fill="#666" stroke="#666" stroke-width="0.12">A708</text>
<line x1="333.15" y1="147.20" x2="333.15" y2="149.80" stroke="#000" stroke-width="0.9" />
<text transform="translate(335.35,156.50) rotate(-45)" x="0" y="0" font-size="2.8" text-anchor="end" fill="#666" stroke="#666" stroke-width="0.12">D725</text>
<line x1="337.75" y1="147.20" x2="337.75" y2="149.80" stroke="#000" stroke-width="0.9" />
<text transform="translate(339.95,156.50) rotate(-45)" x="0" y="0" font-size="2.8" text-anchor="end" fill="#666" stroke="#666" stroke-width="0.12">H738</text>
<line x1="342.35" y1="147.20" x2="342.35" y2="149.80" stroke="#000" stroke-width="0.9" />
<text transform="translate(344.55,156.50) rotate(-45)" x="0" y="0" font-size="2.8" text-anchor="end" fill="#666" stroke="#666" stroke-width="0.12">G740</text>
<rect x="221.40" y="146.57" width="2.70" height="0.63" fill="#7a2c9c"/>
<rect x="230.60" y="146.57" width="2.70" height="0.63" fill="#a0783a"/>
<rect x="239.80" y="140.72" width="2.70" height="6.48" fill="#cfcfcf"/>
<rect x="239.80" y="138.74" width="2.70" height="1.99" fill="#960f0f"/>
<rect x="239.80" y="136.02" width="2.70" height="2.72" fill="#a9dde6"/>
<rect x="244.40" y="146.57" width="2.70" height="0.63" fill="#9cc2ee"/>
<rect x="267.40" y="145.11" width="2.70" height="2.09" fill="#62b23e"/>
<rect x="267.40" y="138.21" width="2.70" height="6.90" fill="#7cc064"/>
<rect x="272.00" y="146.57" width="2.70" height="0.63" fill="#7a2c9c"/>
<rect x="276.60" y="143.86" width="2.70" height="3.34" fill="#000000"/>
<rect x="276.60" y="142.71" width="2.70" height="1.15" fill="#4d9fd6"/>
<rect x="276.60" y="110.00" width="2.70" height="32.71" fill="#d6301c"/>
<rect x="276.60" y="107.91" width="2.70" height="2.09" fill="#5a0f6a"/>
<rect x="276.60" y="106.76" width="2.70" height="1.15" fill="#7cc064"/>
<rect x="276.60" y="103.73" width="2.70" height="3.03" fill="#25601c"/>
<rect x="308.80" y="63.60" width="2.70" height="83.60" fill="#22177a"/>
<rect x="318.00" y="144.27" width="2.70" height="2.93" fill="#e8901c"/>
<text x="259.60" y="69.60" font-size="8.2" text-anchor="middle" fill="#111" font-weight="normal" stroke="#111" stroke-width="0.2" >MDS-EB</text>
<text transform="translate(187.30,105.00) rotate(-90) scale(0.645,1)" x="0" y="3.17" font-size="8.8" text-anchor="middle" fill="#111" stroke="#111" stroke-width="0.4">Counts</text>
<line x1="377.80" y1="61.10" x2="377.80" y2="147.70" stroke="#000" stroke-width="1.25" />
<line x1="374.80" y1="147.20" x2="377.80" y2="147.20" stroke="#000" stroke-width="0.9" />
<text x="371.90" y="149.60" font-size="6.4" text-anchor="end" fill="#222" font-weight="normal" stroke="#222" stroke-width="0.12" >0</text>
<line x1="374.80" y1="119.33" x2="377.80" y2="119.33" stroke="#000" stroke-width="0.9" />
<text x="371.90" y="121.73" font-size="6.4" text-anchor="end" fill="#222" font-weight="normal" stroke="#222" stroke-width="0.12" >40</text>
<line x1="374.80" y1="91.46" x2="377.80" y2="91.46" stroke="#000" stroke-width="0.9" />
<text x="371.90" y="93.86" font-size="6.4" text-anchor="end" fill="#222" font-weight="normal" stroke="#222" stroke-width="0.12" >80</text>
<line x1="374.80" y1="63.60" x2="377.80" y2="63.60" stroke="#000" stroke-width="0.9" />
<text x="371.90" y="66.00" font-size="6.4" text-anchor="end" fill="#222" font-weight="normal" stroke="#222" stroke-width="0.12" >120</text>
<line x1="374.80" y1="147.20" x2="512.80" y2="147.20" stroke="#000" stroke-width="1.25" />
<line x1="381.00" y1="147.20" x2="381.00" y2="149.80" stroke="#000" stroke-width="0.9" />
<text transform="translate(383.20,156.50) rotate(-45)" x="0" y="0" font-size="2.8" text-anchor="end" fill="#666" stroke="#666" stroke-width="0.12">G605</text>
<line x1="385.60" y1="147.20" x2="385.60" y2="149.80" stroke="#000" stroke-width="0.9" />
<text transform="translate(387.80,156.50) rotate(-45)" x="0" y="0" font-size="2.8" text-anchor="end" fill="#666" stroke="#666" stroke-width="0.12">S611</text>
<line x1="390.20" y1="147.20" x2="390.20" y2="149.80" stroke="#000" stroke-width="0.9" />
<text transform="translate(392.40,156.50) rotate(-45)" x="0" y="0" font-size="2.8" text-anchor="end" fill="#666" stroke="#666" stroke-width="0.12">T612</text>
<line x1="394.80" y1="147.20" x2="394.80" y2="149.80" stroke="#000" stroke-width="0.9" />
<text transform="translate(397.00,156.50) rotate(-45)" x="0" y="0" font-size="2.8" text-anchor="end" fill="#666" stroke="#666" stroke-width="0.12">D621</text>
<line x1="399.40" y1="147.20" x2="399.40" y2="149.80" stroke="#000" stroke-width="0.9" />
<text transform="translate(401.60,156.50) rotate(-45)" x="0" y="0" font-size="2.8" text-anchor="end" fill="#666" stroke="#666" stroke-width="0.12">E622</text>
<line x1="404.00" y1="147.20" x2="404.00" y2="149.80" stroke="#000" stroke-width="0.9" />
<text transform="translate(406.20,156.50) rotate(-45)" x="0" y="0" font-size="2.8" text-anchor="end" fill="#666" stroke="#666" stroke-width="0.12">Y623</text>
<line x1="408.60" y1="147.20" x2="408.60" y2="149.80" stroke="#000" stroke-width="0.9" />
<text transform="translate(410.80,156.50) rotate(-45)" x="0" y="0" font-size="2.8" text-anchor="end" fill="#666" stroke="#666" stroke-width="0.12">R625</text>
<line x1="413.20" y1="147.20" x2="413.20" y2="149.80" stroke="#000" stroke-width="0.9" />
<text transform="translate(415.40,156.50) rotate(-45)" x="0" y="0" font-size="2.8" text-anchor="end" fill="#666" stroke="#666" stroke-width="0.12">N626</text>
<line x1="417.80" y1="147.20" x2="417.80" y2="149.80" stroke="#000" stroke-width="0.9" />
<text transform="translate(420.00,156.50) rotate(-45)" x="0" y="0" font-size="2.8" text-anchor="end" fill="#666" stroke="#666" stroke-width="0.12">I641</text>
<line x1="422.40" y1="147.20" x2="422.40" y2="149.80" stroke="#000" stroke-width="0.9" />
<text transform="translate(424.60,156.50) rotate(-45)" x="0" y="0" font-size="2.8" text-anchor="end" fill="#666" stroke="#666" stroke-width="0.12">W658</text>
<line x1="427.00" y1="147.20" x2="427.00" y2="149.80" stroke="#000" stroke-width="0.9" />
<text transform="translate(429.20,156.50) rotate(-45)" x="0" y="0" font-size="2.8" text-anchor="end" fill="#666" stroke="#666" stroke-width="0.12">Q659</text>
<line x1="431.60" y1="147.20" x2="431.60" y2="149.80" stroke="#000" stroke-width="0.9" />
<text transform="translate(433.80,156.50) rotate(-45)" x="0" y="0" font-size="2.8" text-anchor="end" fill="#666" stroke="#666" stroke-width="0.12">A660</text>
<line x1="436.20" y1="147.20" x2="436.20" y2="149.80" stroke="#000" stroke-width="0.9" />
<text transform="translate(438.40,156.50) rotate(-45)" x="0" y="0" font-size="2.8" text-anchor="end" fill="#666" stroke="#666" stroke-width="0.12">H662</text>
<line x1="440.80" y1="147.20" x2="440.80" y2="149.80" stroke="#000" stroke-width="0.9" />
<text transform="translate(443.00,156.50) rotate(-45)" x="0" y="0" font-size="2.8" text-anchor="end" fill="#666" stroke="#666" stroke-width="0.12">T663</text>
<line x1="445.40" y1="147.20" x2="445.40" y2="149.80" stroke="#000" stroke-width="0.9" />
<text transform="translate(447.60,156.50) rotate(-45)" x="0" y="0" font-size="2.8" text-anchor="end" fill="#666" stroke="#666" stroke-width="0.12">K666</text>
<line x1="450.00" y1="147.20" x2="450.00" y2="149.80" stroke="#000" stroke-width="0.9" />
<text transform="translate(452.20,156.50) rotate(-45)" x="0" y="0" font-size="2.8" text-anchor="end" fill="#666" stroke="#666" stroke-width="0.12">A672</text>
<line x1="454.60" y1="147.20" x2="454.60" y2="149.80" stroke="#000" stroke-width="0.9" />
<text transform="translate(456.80,156.50) rotate(-45)" x="0" y="0" font-size="2.8" text-anchor="end" fill="#666" stroke="#666" stroke-width="0.12">L674</text>
<line x1="459.20" y1="147.20" x2="459.20" y2="149.80" stroke="#000" stroke-width="0.9" />
<text transform="translate(461.40,156.50) rotate(-45)" x="0" y="0" font-size="2.8" text-anchor="end" fill="#666" stroke="#666" stroke-width="0.12">I679</text>
<line x1="463.80" y1="147.20" x2="463.80" y2="149.80" stroke="#000" stroke-width="0.9" />
<text transform="translate(466.00,156.50) rotate(-45)" x="0" y="0" font-size="2.8" text-anchor="end" fill="#666" stroke="#666" stroke-width="0.12">S685</text>
<line x1="468.40" y1="147.20" x2="468.40" y2="149.80" stroke="#000" stroke-width="0.9" />
<text transform="translate(470.60,156.50) rotate(-45)" x="0" y="0" font-size="2.8" text-anchor="end" fill="#666" stroke="#666" stroke-width="0.12">V695</text>
<line x1="473.00" y1="147.20" x2="473.00" y2="149.80" stroke="#000" stroke-width="0.9" />
<text transform="translate(475.20,156.50) rotate(-45)" x="0" y="0" font-size="2.8" text-anchor="end" fill="#666" stroke="#666" stroke-width="0.12">Q699</text>
<line x1="477.60" y1="147.20" x2="477.60" y2="149.80" stroke="#000" stroke-width="0.9" />
<text transform="translate(479.80,156.50) rotate(-45)" x="0" y="0" font-size="2.8" text-anchor="end" fill="#666" stroke="#666" stroke-width="0.12">K700</text>
<line x1="482.20" y1="147.20" x2="482.20" y2="149.80" stroke="#000" stroke-width="0.9" />
<text transform="translate(484.40,156.50) rotate(-45)" x="0" y="0" font-size="2.8" text-anchor="end" fill="#666" stroke="#666" stroke-width="0.12">V701</text>
<line x1="486.80" y1="147.20" x2="486.80" y2="149.80" stroke="#000" stroke-width="0.9" />
<text transform="translate(489.00,156.50) rotate(-45)" x="0" y="0" font-size="2.8" text-anchor="end" fill="#666" stroke="#666" stroke-width="0.12">I704</text>
<line x1="491.40" y1="147.20" x2="491.40" y2="149.80" stroke="#000" stroke-width="0.9" />
<text transform="translate(493.60,156.50) rotate(-45)" x="0" y="0" font-size="2.8" text-anchor="end" fill="#666" stroke="#666" stroke-width="0.12">S705</text>
<line x1="496.00" y1="147.20" x2="496.00" y2="149.80" stroke="#000" stroke-width="0.9" />
<text transform="translate(498.20,156.50) rotate(-45)" x="0" y="0" font-size="2.8" text-anchor="end" fill="#666" stroke="#666" stroke-width="0.12">A708</text>
<line x1="500.60" y1="147.20" x2="500.60" y2="149.80" stroke="#000" stroke-width="0.9" />
<text transform="translate(502.80,156.50) rotate(-45)" x="0" y="0" font-size="2.8" text-anchor="end" fill="#666" stroke="#666" stroke-width="0.12">D725</text>
<line x1="505.20" y1="147.20" x2="505.20" y2="149.80" stroke="#000" stroke-width="0.9" />
<text transform="translate(507.40,156.50) rotate(-45)" x="0" y="0" font-size="2.8" text-anchor="end" fill="#666" stroke="#666" stroke-width="0.12">H738</text>
<line x1="509.80" y1="147.20" x2="509.80" y2="149.80" stroke="#000" stroke-width="0.9" />
<text transform="translate(512.00,156.50) rotate(-45)" x="0" y="0" font-size="2.8" text-anchor="end" fill="#666" stroke="#666" stroke-width="0.12">G740</text>
<rect x="379.65" y="146.15" width="2.70" height="1.05" fill="#d6301c"/>
<rect x="402.65" y="146.29" width="2.70" height="0.91" fill="#22177a"/>
<rect x="407.25" y="142.11" width="2.70" height="5.09" fill="#d8d8d8"/>
<rect x="407.25" y="140.16" width="2.70" height="1.95" fill="#dba6a6"/>
<rect x="407.25" y="138.21" width="2.70" height="1.95" fill="#a9dde6"/>
<rect x="407.25" y="137.24" width="2.70" height="0.98" fill="#a8d890"/>
<rect x="434.85" y="145.60" width="2.70" height="1.60" fill="#22177a"/>
<rect x="434.85" y="140.44" width="2.70" height="5.16" fill="#7cc064"/>
<rect x="439.45" y="144.20" width="2.70" height="3.00" fill="#7a2c9c"/>
<rect x="444.05" y="145.11" width="2.70" height="2.09" fill="#000000"/>
<rect x="444.05" y="142.32" width="2.70" height="2.79" fill="#8ccaf2"/>
<rect x="444.05" y="84.85" width="2.70" height="57.48" fill="#d6301c"/>
<rect x="444.05" y="79.06" width="2.70" height="5.78" fill="#5a0f6a"/>
<rect x="444.05" y="77.60" width="2.70" height="1.46" fill="#6fcf3a"/>
<rect x="444.05" y="68.12" width="2.70" height="9.48" fill="#25601c"/>
<rect x="448.65" y="146.64" width="2.70" height="0.56" fill="#9cc2ee"/>
<rect x="476.25" y="65.69" width="2.70" height="81.51" fill="#22177a"/>
<rect x="485.45" y="146.64" width="2.70" height="0.56" fill="#e8901c"/>
<rect x="490.05" y="146.64" width="2.70" height="0.56" fill="#22177a"/>
<rect x="508.45" y="143.02" width="2.70" height="4.18" fill="#9cc2ee"/>
<text x="410.70" y="69.60" font-size="8.2" text-anchor="middle" fill="#111" font-weight="normal" stroke="#111" stroke-width="0.2" >AML</text>
<text transform="translate(353.50,105.00) rotate(-90) scale(0.645,1)" x="0" y="3.17" font-size="8.8" text-anchor="middle" fill="#111" stroke="#111" stroke-width="0.4">Counts</text>
<line x1="42.90" y1="195.20" x2="42.90" y2="257.60" stroke="#000" stroke-width="1.25" />
<line x1="39.90" y1="257.10" x2="42.90" y2="257.10" stroke="#000" stroke-width="0.9" />
<text x="37.30" y="259.40" font-size="6.4" text-anchor="end" fill="#222" font-weight="normal" stroke="#222" stroke-width="0.12" >0</text>
<line x1="39.90" y1="245.24" x2="42.90" y2="245.24" stroke="#000" stroke-width="0.9" />
<text x="37.30" y="247.54" font-size="6.4" text-anchor="end" fill="#222" font-weight="normal" stroke="#222" stroke-width="0.12" >2</text>
<line x1="39.90" y1="233.38" x2="42.90" y2="233.38" stroke="#000" stroke-width="0.9" />
<text x="37.30" y="235.68" font-size="6.4" text-anchor="end" fill="#222" font-weight="normal" stroke="#222" stroke-width="0.12" >4</text>
<line x1="39.90" y1="221.52" x2="42.90" y2="221.52" stroke="#000" stroke-width="0.9" />
<text x="37.30" y="223.82" font-size="6.4" text-anchor="end" fill="#222" font-weight="normal" stroke="#222" stroke-width="0.12" >6</text>
<line x1="39.90" y1="209.66" x2="42.90" y2="209.66" stroke="#000" stroke-width="0.9" />
<text x="37.30" y="211.96" font-size="6.4" text-anchor="end" fill="#222" font-weight="normal" stroke="#222" stroke-width="0.12" >8</text>
<line x1="39.90" y1="197.80" x2="42.90" y2="197.80" stroke="#000" stroke-width="0.9" />
<text x="37.30" y="200.10" font-size="6.4" text-anchor="end" fill="#222" font-weight="normal" stroke="#222" stroke-width="0.12" >10</text>
<line x1="39.90" y1="257.10" x2="116.00" y2="257.10" stroke="#000" stroke-width="1.25" />
<line x1="63.70" y1="257.10" x2="63.70" y2="259.70" stroke="#000" stroke-width="0.9" />
<line x1="95.00" y1="257.10" x2="95.00" y2="259.70" stroke="#000" stroke-width="0.9" />
<text x="63.70" y="268.80" font-size="6.3" text-anchor="middle" fill="#1a1a1a" font-weight="normal" stroke="#1a1a1a" stroke-width="0.06" >nonK666N</text>
<text x="95.00" y="268.80" font-size="6.3" text-anchor="middle" fill="#1a1a1a" font-weight="normal" stroke="#1a1a1a" stroke-width="0.06" >K666N</text>
<text transform="translate(21.90,226.90) rotate(-90) scale(0.63,1)" x="0" y="3.10" font-size="8.6" text-anchor="middle" fill="#111" stroke="#111" stroke-width="0.28">IPSS-R</text>
<rect x="63.00" y="214.89" width="1.40" height="1.40" fill="#2b4a8c"/>
<rect x="63.00" y="217.86" width="1.40" height="1.40" fill="#2b4a8c"/>
<rect x="63.00" y="220.82" width="1.40" height="1.40" fill="#2b4a8c"/>
<rect x="63.00" y="226.75" width="1.40" height="1.40" fill="#2b4a8c"/>
<rect x="63.00" y="229.72" width="1.40" height="1.40" fill="#2b4a8c"/>
<rect x="63.00" y="232.68" width="1.40" height="1.40" fill="#2b4a8c"/>
<rect x="62.40" y="235.65" width="1.40" height="1.40" fill="#2b4a8c"/>
<rect x="63.60" y="235.65" width="1.40" height="1.40" fill="#2b4a8c"/>
<rect x="59.40" y="238.61" width="1.40" height="1.40" fill="#2b4a8c"/>
<rect x="60.60" y="238.61" width="1.40" height="1.40" fill="#2b4a8c"/>
<rect x="61.80" y="238.61" width="1.40" height="1.40" fill="#2b4a8c"/>
<rect x="63.00" y="238.61" width="1.40" height="1.40" fill="#2b4a8c"/>
<rect x="64.20" y="238.61" width="1.40" height="1.40" fill="#2b4a8c"/>
<rect x="65.40" y="238.61" width="1.40" height="1.40" fill="#2b4a8c"/>
<rect x="66.60" y="238.61" width="1.40" height="1.40" fill="#2b4a8c"/>
<rect x="61.20" y="241.58" width="1.40" height="1.40" fill="#2b4a8c"/>
<rect x="62.40" y="241.58" width="1.40" height="1.40" fill="#2b4a8c"/>
<rect x="63.60" y="241.58" width="1.40" height="1.40" fill="#2b4a8c"/>
<rect x="64.80" y="241.58" width="1.40" height="1.40" fill="#2b4a8c"/>
<rect x="52.80" y="244.54" width="1.40" height="1.40" fill="#2b4a8c"/>
<rect x="54.00" y="244.54" width="1.40" height="1.40" fill="#2b4a8c"/>
<rect x="55.20" y="244.54" width="1.40" height="1.40" fill="#2b4a8c"/>
<rect x="56.40" y="244.54" width="1.40" height="1.40" fill="#2b4a8c"/>
<rect x="57.60" y="244.54" width="1.40" height="1.40" fill="#2b4a8c"/>
<rect x="58.80" y="244.54" width="1.40" height="1.40" fill="#2b4a8c"/>
<rect x="60.00" y="244.54" width="1.40" height="1.40" fill="#2b4a8c"/>
<rect x="61.20" y="244.54" width="1.40" height="1.40" fill="#2b4a8c"/>
<rect x="62.40" y="244.54" width="1.40" height="1.40" fill="#2b4a8c"/>
<rect x="63.60" y="244.54" width="1.40" height="1.40" fill="#2b4a8c"/>
<rect x="64.80" y="244.54" width="1.40" height="1.40" fill="#2b4a8c"/>
<rect x="66.00" y="244.54" width="1.40" height="1.40" fill="#2b4a8c"/>
<rect x="67.20" y="244.54" width="1.40" height="1.40" fill="#2b4a8c"/>
<rect x="68.40" y="244.54" width="1.40" height="1.40" fill="#2b4a8c"/>
<rect x="69.60" y="244.54" width="1.40" height="1.40" fill="#2b4a8c"/>
<rect x="70.80" y="244.54" width="1.40" height="1.40" fill="#2b4a8c"/>
<rect x="72.00" y="244.54" width="1.40" height="1.40" fill="#2b4a8c"/>
<rect x="73.20" y="244.54" width="1.40" height="1.40" fill="#2b4a8c"/>
<rect x="62.40" y="247.51" width="1.40" height="1.40" fill="#2b4a8c"/>
<rect x="63.60" y="247.51" width="1.40" height="1.40" fill="#2b4a8c"/>
<rect x="54.60" y="250.47" width="1.40" height="1.40" fill="#2b4a8c"/>
<rect x="55.80" y="250.47" width="1.40" height="1.40" fill="#2b4a8c"/>
<rect x="57.00" y="250.47" width="1.40" height="1.40" fill="#2b4a8c"/>
<rect x="58.20" y="250.47" width="1.40" height="1.40" fill="#2b4a8c"/>
<rect x="59.40" y="250.47" width="1.40" height="1.40" fill="#2b4a8c"/>
<rect x="60.60" y="250.47" width="1.40" height="1.40" fill="#2b4a8c"/>
<rect x="61.80" y="250.47" width="1.40" height="1.40" fill="#2b4a8c"/>
<rect x="63.00" y="250.47" width="1.40" height="1.40" fill="#2b4a8c"/>
<rect x="64.20" y="250.47" width="1.40" height="1.40" fill="#2b4a8c"/>
<rect x="65.40" y="250.47" width="1.40" height="1.40" fill="#2b4a8c"/>
<rect x="66.60" y="250.47" width="1.40" height="1.40" fill="#2b4a8c"/>
<rect x="67.80" y="250.47" width="1.40" height="1.40" fill="#2b4a8c"/>
<rect x="69.00" y="250.47" width="1.40" height="1.40" fill="#2b4a8c"/>
<rect x="70.20" y="250.47" width="1.40" height="1.40" fill="#2b4a8c"/>
<rect x="71.40" y="250.47" width="1.40" height="1.40" fill="#2b4a8c"/>
<rect x="94.40" y="209.06" width="1.20" height="1.20" fill="#bc1a44"/>
<rect x="93.10" y="214.99" width="1.20" height="1.20" fill="#bc1a44"/>
<rect x="95.70" y="214.99" width="1.20" height="1.20" fill="#bc1a44"/>
<rect x="94.40" y="226.85" width="1.20" height="1.20" fill="#bc1a44"/>
<rect x="94.40" y="229.82" width="1.20" height="1.20" fill="#bc1a44"/>
<rect x="90.50" y="235.75" width="1.20" height="1.20" fill="#bc1a44"/>
<rect x="93.10" y="235.75" width="1.20" height="1.20" fill="#bc1a44"/>
<rect x="95.70" y="235.75" width="1.20" height="1.20" fill="#bc1a44"/>
<rect x="98.30" y="235.75" width="1.20" height="1.20" fill="#bc1a44"/>
<rect x="93.10" y="241.68" width="1.20" height="1.20" fill="#bc1a44"/>
<rect x="95.70" y="241.68" width="1.20" height="1.20" fill="#bc1a44"/>
<rect x="94.40" y="247.61" width="1.20" height="1.20" fill="#bc1a44"/>
<rect x="94.40" y="250.57" width="1.20" height="1.20" fill="#bc1a44"/>
<line x1="51.00" y1="244.40" x2="76.60" y2="244.40" stroke="#2b4a8c" stroke-width="1.3" />
<line x1="82.10" y1="232.80" x2="107.90" y2="232.80" stroke="#bc1a44" stroke-width="1.2" />
<line x1="90.00" y1="229.20" x2="100.00" y2="229.20" stroke="#bc1a44" stroke-width="1.2" />
<line x1="90.00" y1="236.30" x2="100.00" y2="236.30" stroke="#bc1a44" stroke-width="1.2" />
<line x1="95.00" y1="229.20" x2="95.00" y2="236.30" stroke="#bc1a44" stroke-width="1.2" />
<path d="M63.8,208.7 V199.7 H95 V203.5" fill="none" stroke="#333" stroke-width="1"/>
<text x="79.40" y="200.30" font-size="5.5" text-anchor="middle" fill="#222" font-weight="normal" stroke="#222" stroke-width="0.22" >****</text>
<line x1="166.70" y1="195.60" x2="166.70" y2="257.60" stroke="#000" stroke-width="1.25" />
<line x1="163.70" y1="257.10" x2="166.70" y2="257.10" stroke="#000" stroke-width="0.9" />
<text x="161.10" y="259.40" font-size="6.4" text-anchor="end" fill="#222" font-weight="normal" stroke="#222" stroke-width="0.12" >0</text>
<line x1="163.70" y1="242.33" x2="166.70" y2="242.33" stroke="#000" stroke-width="0.9" />
<text x="161.10" y="244.63" font-size="6.4" text-anchor="end" fill="#222" font-weight="normal" stroke="#222" stroke-width="0.12" >5</text>
<line x1="163.70" y1="227.55" x2="166.70" y2="227.55" stroke="#000" stroke-width="0.9" />
<text x="161.10" y="229.85" font-size="6.4" text-anchor="end" fill="#222" font-weight="normal" stroke="#222" stroke-width="0.12" >10</text>
<line x1="163.70" y1="212.78" x2="166.70" y2="212.78" stroke="#000" stroke-width="0.9" />
<text x="161.10" y="215.08" font-size="6.4" text-anchor="end" fill="#222" font-weight="normal" stroke="#222" stroke-width="0.12" >15</text>
<line x1="163.70" y1="198.00" x2="166.70" y2="198.00" stroke="#000" stroke-width="0.9" />
<text x="161.10" y="200.30" font-size="6.4" text-anchor="end" fill="#222" font-weight="normal" stroke="#222" stroke-width="0.12" >20</text>
<line x1="163.70" y1="257.10" x2="231.80" y2="257.10" stroke="#000" stroke-width="1.25" />
<line x1="184.90" y1="257.10" x2="184.90" y2="259.70" stroke="#000" stroke-width="0.9" />
<line x1="213.00" y1="257.10" x2="213.00" y2="259.70" stroke="#000" stroke-width="0.9" />
<text x="184.90" y="268.80" font-size="6.3" text-anchor="middle" fill="#1a1a1a" font-weight="normal" stroke="#1a1a1a" stroke-width="0.06" >nonK666N</text>
<text x="213.00" y="268.80" font-size="6.3" text-anchor="middle" fill="#1a1a1a" font-weight="normal" stroke="#1a1a1a" stroke-width="0.06" >K666N</text>
<text transform="translate(146.00,226.50) rotate(-90) scale(0.64,1)" x="0" y="3.02" font-size="8.4" text-anchor="middle" fill="#111" stroke="#111" stroke-width="0.28">WBC at diagnosis</text>
<rect x="184.13" y="225.10" width="1.32" height="1.32" fill="#2b4a8c"/>
<rect x="184.37" y="226.19" width="1.32" height="1.32" fill="#2b4a8c"/>
<rect x="183.69" y="227.55" width="1.32" height="1.32" fill="#2b4a8c"/>
<rect x="184.46" y="227.65" width="1.32" height="1.32" fill="#2b4a8c"/>
<rect x="183.14" y="228.74" width="1.32" height="1.32" fill="#2b4a8c"/>
<rect x="184.51" y="228.50" width="1.32" height="1.32" fill="#2b4a8c"/>
<rect x="183.41" y="230.17" width="1.32" height="1.32" fill="#2b4a8c"/>
<rect x="184.59" y="229.75" width="1.32" height="1.32" fill="#2b4a8c"/>
<rect x="183.56" y="231.40" width="1.32" height="1.32" fill="#2b4a8c"/>
<rect x="185.16" y="231.02" width="1.32" height="1.32" fill="#2b4a8c"/>
<rect x="183.38" y="231.92" width="1.32" height="1.32" fill="#2b4a8c"/>
<rect x="184.56" y="232.09" width="1.32" height="1.32" fill="#2b4a8c"/>
<rect x="185.20" y="231.97" width="1.32" height="1.32" fill="#2b4a8c"/>
<rect x="182.57" y="233.61" width="1.32" height="1.32" fill="#2b4a8c"/>
<rect x="183.91" y="233.45" width="1.32" height="1.32" fill="#2b4a8c"/>
<rect x="185.86" y="233.30" width="1.32" height="1.32" fill="#2b4a8c"/>
<rect x="182.41" y="234.23" width="1.32" height="1.32" fill="#2b4a8c"/>
<rect x="183.23" y="234.33" width="1.32" height="1.32" fill="#2b4a8c"/>
<rect x="185.02" y="234.49" width="1.32" height="1.32" fill="#2b4a8c"/>
<rect x="185.95" y="234.60" width="1.32" height="1.32" fill="#2b4a8c"/>
<rect x="182.06" y="235.55" width="1.32" height="1.32" fill="#2b4a8c"/>
<rect x="183.82" y="235.83" width="1.32" height="1.32" fill="#2b4a8c"/>
<rect x="184.70" y="235.74" width="1.32" height="1.32" fill="#2b4a8c"/>
<rect x="186.40" y="235.95" width="1.32" height="1.32" fill="#2b4a8c"/>
<rect x="181.78" y="236.69" width="1.32" height="1.32" fill="#2b4a8c"/>
<rect x="183.35" y="236.57" width="1.32" height="1.32" fill="#2b4a8c"/>
<rect x="184.16" y="237.02" width="1.32" height="1.32" fill="#2b4a8c"/>
<rect x="185.25" y="236.83" width="1.32" height="1.32" fill="#2b4a8c"/>
<rect x="186.48" y="236.96" width="1.32" height="1.32" fill="#2b4a8c"/>
<rect x="181.29" y="238.04" width="1.32" height="1.32" fill="#2b4a8c"/>
<rect x="182.66" y="237.86" width="1.32" height="1.32" fill="#2b4a8c"/>
<rect x="183.78" y="238.06" width="1.32" height="1.32" fill="#2b4a8c"/>
<rect x="184.95" y="237.96" width="1.32" height="1.32" fill="#2b4a8c"/>
<rect x="186.46" y="238.30" width="1.32" height="1.32" fill="#2b4a8c"/>
<rect x="187.41" y="238.10" width="1.32" height="1.32" fill="#2b4a8c"/>
<rect x="180.20" y="239.28" width="1.32" height="1.32" fill="#2b4a8c"/>
<rect x="182.23" y="239.49" width="1.32" height="1.32" fill="#2b4a8c"/>
<rect x="183.84" y="238.99" width="1.32" height="1.32" fill="#2b4a8c"/>
<rect x="184.84" y="239.26" width="1.32" height="1.32" fill="#2b4a8c"/>
<rect x="185.92" y="239.11" width="1.32" height="1.32" fill="#2b4a8c"/>
<rect x="187.50" y="238.87" width="1.32" height="1.32" fill="#2b4a8c"/>
<rect x="179.54" y="240.48" width="1.32" height="1.32" fill="#2b4a8c"/>
<rect x="181.03" y="240.11" width="1.32" height="1.32" fill="#2b4a8c"/>
<rect x="182.71" y="240.55" width="1.32" height="1.32" fill="#2b4a8c"/>
<rect x="183.82" y="240.25" width="1.32" height="1.32" fill="#2b4a8c"/>
<rect x="185.71" y="240.56" width="1.32" height="1.32" fill="#2b4a8c"/>
<rect x="187.40" y="240.54" width="1.32" height="1.32" fill="#2b4a8c"/>
<rect x="188.28" y="240.23" width="1.32" height="1.32" fill="#2b4a8c"/>
<rect x="179.15" y="241.71" width="1.32" height="1.32" fill="#2b4a8c"/>
<rect x="181.16" y="241.20" width="1.32" height="1.32" fill="#2b4a8c"/>
<rect x="181.80" y="241.25" width="1.32" height="1.32" fill="#2b4a8c"/>
<rect x="183.27" y="241.43" width="1.32" height="1.32" fill="#2b4a8c"/>
<rect x="185.04" y="241.27" width="1.32" height="1.32" fill="#2b4a8c"/>
<rect x="185.87" y="241.38" width="1.32" height="1.32" fill="#2b4a8c"/>
<rect x="187.65" y="241.49" width="1.32" height="1.32" fill="#2b4a8c"/>
<rect x="189.64" y="241.57" width="1.32" height="1.32" fill="#2b4a8c"/>
<rect x="178.61" y="242.67" width="1.32" height="1.32" fill="#2b4a8c"/>
<rect x="180.18" y="242.28" width="1.32" height="1.32" fill="#2b4a8c"/>
<rect x="181.81" y="242.79" width="1.32" height="1.32" fill="#2b4a8c"/>
<rect x="183.20" y="242.80" width="1.32" height="1.32" fill="#2b4a8c"/>
<rect x="184.13" y="242.52" width="1.32" height="1.32" fill="#2b4a8c"/>
<rect x="185.26" y="242.68" width="1.32" height="1.32" fill="#2b4a8c"/>
<rect x="186.63" y="242.29" width="1.32" height="1.32" fill="#2b4a8c"/>
<rect x="188.19" y="242.35" width="1.32" height="1.32" fill="#2b4a8c"/>
<rect x="189.73" y="242.28" width="1.32" height="1.32" fill="#2b4a8c"/>
<rect x="177.30" y="243.50" width="1.32" height="1.32" fill="#2b4a8c"/>
<rect x="178.83" y="243.64" width="1.32" height="1.32" fill="#2b4a8c"/>
<rect x="180.18" y="244.00" width="1.32" height="1.32" fill="#2b4a8c"/>
<rect x="182.21" y="243.49" width="1.32" height="1.32" fill="#2b4a8c"/>
<rect x="183.28" y="243.63" width="1.32" height="1.32" fill="#2b4a8c"/>
<rect x="184.82" y="243.48" width="1.32" height="1.32" fill="#2b4a8c"/>
<rect x="186.74" y="244.09" width="1.32" height="1.32" fill="#2b4a8c"/>
<rect x="187.79" y="243.73" width="1.32" height="1.32" fill="#2b4a8c"/>
<rect x="188.84" y="243.46" width="1.32" height="1.32" fill="#2b4a8c"/>
<rect x="190.53" y="243.58" width="1.32" height="1.32" fill="#2b4a8c"/>
<rect x="177.04" y="244.65" width="1.32" height="1.32" fill="#2b4a8c"/>
<rect x="177.64" y="245.21" width="1.32" height="1.32" fill="#2b4a8c"/>
<rect x="179.49" y="244.64" width="1.32" height="1.32" fill="#2b4a8c"/>
<rect x="180.87" y="244.56" width="1.32" height="1.32" fill="#2b4a8c"/>
<rect x="182.22" y="245.22" width="1.32" height="1.32" fill="#2b4a8c"/>
<rect x="183.90" y="245.03" width="1.32" height="1.32" fill="#2b4a8c"/>
<rect x="184.69" y="244.80" width="1.32" height="1.32" fill="#2b4a8c"/>
<rect x="185.97" y="245.08" width="1.32" height="1.32" fill="#2b4a8c"/>
<rect x="187.69" y="245.09" width="1.32" height="1.32" fill="#2b4a8c"/>
<rect x="188.86" y="244.70" width="1.32" height="1.32" fill="#2b4a8c"/>
<rect x="190.68" y="245.23" width="1.32" height="1.32" fill="#2b4a8c"/>
<rect x="192.09" y="245.10" width="1.32" height="1.32" fill="#2b4a8c"/>
<rect x="176.47" y="246.21" width="1.32" height="1.32" fill="#2b4a8c"/>
<rect x="177.26" y="246.05" width="1.32" height="1.32" fill="#2b4a8c"/>
<rect x="178.73" y="245.71" width="1.32" height="1.32" fill="#2b4a8c"/>
<rect x="179.76" y="245.89" width="1.32" height="1.32" fill="#2b4a8c"/>
<rect x="181.32" y="246.17" width="1.32" height="1.32" fill="#2b4a8c"/>
<rect x="183.33" y="246.00" width="1.32" height="1.32" fill="#2b4a8c"/>
<rect x="184.65" y="246.38" width="1.32" height="1.32" fill="#2b4a8c"/>
<rect x="186.01" y="245.95" width="1.32" height="1.32" fill="#2b4a8c"/>
<rect x="186.67" y="245.85" width="1.32" height="1.32" fill="#2b4a8c"/>
<rect x="187.99" y="245.83" width="1.32" height="1.32" fill="#2b4a8c"/>
<rect x="189.74" y="246.32" width="1.32" height="1.32" fill="#2b4a8c"/>
<rect x="191.28" y="246.03" width="1.32" height="1.32" fill="#2b4a8c"/>
<rect x="192.45" y="246.25" width="1.32" height="1.32" fill="#2b4a8c"/>
<rect x="175.56" y="247.30" width="1.32" height="1.32" fill="#2b4a8c"/>
<rect x="177.74" y="247.39" width="1.32" height="1.32" fill="#2b4a8c"/>
<rect x="178.96" y="247.17" width="1.32" height="1.32" fill="#2b4a8c"/>
<rect x="179.79" y="247.39" width="1.32" height="1.32" fill="#2b4a8c"/>
<rect x="181.32" y="247.40" width="1.32" height="1.32" fill="#2b4a8c"/>
<rect x="183.32" y="247.12" width="1.32" height="1.32" fill="#2b4a8c"/>
<rect x="184.14" y="247.50" width="1.32" height="1.32" fill="#2b4a8c"/>
<rect x="185.84" y="246.96" width="1.32" height="1.32" fill="#2b4a8c"/>
<rect x="186.64" y="246.95" width="1.32" height="1.32" fill="#2b4a8c"/>
<rect x="188.77" y="247.40" width="1.32" height="1.32" fill="#2b4a8c"/>
<rect x="189.42" y="247.42" width="1.32" height="1.32" fill="#2b4a8c"/>
<rect x="191.60" y="247.30" width="1.32" height="1.32" fill="#2b4a8c"/>
<rect x="192.38" y="247.22" width="1.32" height="1.32" fill="#2b4a8c"/>
<rect x="176.18" y="248.00" width="1.32" height="1.32" fill="#2b4a8c"/>
<rect x="178.40" y="248.44" width="1.32" height="1.32" fill="#2b4a8c"/>
<rect x="179.37" y="248.64" width="1.32" height="1.32" fill="#2b4a8c"/>
<rect x="180.68" y="248.60" width="1.32" height="1.32" fill="#2b4a8c"/>
<rect x="182.46" y="248.14" width="1.32" height="1.32" fill="#2b4a8c"/>
<rect x="183.30" y="248.20" width="1.32" height="1.32" fill="#2b4a8c"/>
<rect x="184.69" y="248.40" width="1.32" height="1.32" fill="#2b4a8c"/>
<rect x="186.10" y="248.28" width="1.32" height="1.32" fill="#2b4a8c"/>
<rect x="187.38" y="248.63" width="1.32" height="1.32" fill="#2b4a8c"/>
<rect x="189.00" y="248.31" width="1.32" height="1.32" fill="#2b4a8c"/>
<rect x="190.62" y="248.62" width="1.32" height="1.32" fill="#2b4a8c"/>
<rect x="191.86" y="248.63" width="1.32" height="1.32" fill="#2b4a8c"/>
<rect x="177.23" y="249.51" width="1.32" height="1.32" fill="#2b4a8c"/>
<rect x="178.66" y="249.15" width="1.32" height="1.32" fill="#2b4a8c"/>
<rect x="179.98" y="249.27" width="1.32" height="1.32" fill="#2b4a8c"/>
<rect x="180.95" y="249.70" width="1.32" height="1.32" fill="#2b4a8c"/>
<rect x="182.52" y="249.47" width="1.32" height="1.32" fill="#2b4a8c"/>
<rect x="184.46" y="249.53" width="1.32" height="1.32" fill="#2b4a8c"/>
<rect x="185.47" y="249.50" width="1.32" height="1.32" fill="#2b4a8c"/>
<rect x="187.10" y="249.69" width="1.32" height="1.32" fill="#2b4a8c"/>
<rect x="188.06" y="249.53" width="1.32" height="1.32" fill="#2b4a8c"/>
<rect x="189.60" y="249.33" width="1.32" height="1.32" fill="#2b4a8c"/>
<rect x="191.52" y="249.50" width="1.32" height="1.32" fill="#2b4a8c"/>
<rect x="177.98" y="250.82" width="1.32" height="1.32" fill="#2b4a8c"/>
<rect x="179.73" y="250.60" width="1.32" height="1.32" fill="#2b4a8c"/>
<rect x="180.84" y="250.64" width="1.32" height="1.32" fill="#2b4a8c"/>
<rect x="182.15" y="250.77" width="1.32" height="1.32" fill="#2b4a8c"/>
<rect x="183.49" y="250.66" width="1.32" height="1.32" fill="#2b4a8c"/>
<rect x="184.92" y="250.95" width="1.32" height="1.32" fill="#2b4a8c"/>
<rect x="186.54" y="250.90" width="1.32" height="1.32" fill="#2b4a8c"/>
<rect x="188.18" y="250.47" width="1.32" height="1.32" fill="#2b4a8c"/>
<rect x="189.21" y="250.95" width="1.32" height="1.32" fill="#2b4a8c"/>
<rect x="190.89" y="250.39" width="1.32" height="1.32" fill="#2b4a8c"/>
<rect x="178.44" y="251.75" width="1.32" height="1.32" fill="#2b4a8c"/>
<rect x="179.75" y="251.61" width="1.32" height="1.32" fill="#2b4a8c"/>
<rect x="181.11" y="251.91" width="1.32" height="1.32" fill="#2b4a8c"/>
<rect x="183.15" y="252.07" width="1.32" height="1.32" fill="#2b4a8c"/>
<rect x="183.91" y="251.94" width="1.32" height="1.32" fill="#2b4a8c"/>
<rect x="185.75" y="251.54" width="1.32" height="1.32" fill="#2b4a8c"/>
<rect x="187.32" y="252.12" width="1.32" height="1.32" fill="#2b4a8c"/>
<rect x="188.05" y="252.11" width="1.32" height="1.32" fill="#2b4a8c"/>
<rect x="189.58" y="251.78" width="1.32" height="1.32" fill="#2b4a8c"/>
<rect x="180.53" y="253.17" width="1.32" height="1.32" fill="#2b4a8c"/>
<rect x="181.11" y="252.89" width="1.32" height="1.32" fill="#2b4a8c"/>
<rect x="182.86" y="252.83" width="1.32" height="1.32" fill="#2b4a8c"/>
<rect x="183.94" y="252.81" width="1.32" height="1.32" fill="#2b4a8c"/>
<rect x="185.86" y="252.60" width="1.32" height="1.32" fill="#2b4a8c"/>
<rect x="187.09" y="252.90" width="1.32" height="1.32" fill="#2b4a8c"/>
<rect x="187.96" y="252.82" width="1.32" height="1.32" fill="#2b4a8c"/>
<rect x="181.43" y="254.10" width="1.32" height="1.32" fill="#2b4a8c"/>
<rect x="182.33" y="254.43" width="1.32" height="1.32" fill="#2b4a8c"/>
<rect x="184.54" y="254.42" width="1.32" height="1.32" fill="#2b4a8c"/>
<rect x="185.30" y="253.93" width="1.32" height="1.32" fill="#2b4a8c"/>
<rect x="186.70" y="254.29" width="1.32" height="1.32" fill="#2b4a8c"/>
<rect x="182.42" y="254.98" width="1.32" height="1.32" fill="#2b4a8c"/>
<rect x="184.15" y="255.53" width="1.32" height="1.32" fill="#2b4a8c"/>
<rect x="186.16" y="255.07" width="1.32" height="1.32" fill="#2b4a8c"/>
<rect x="184.24" y="202.94" width="1.32" height="1.32" fill="#2b4a8c"/>
<rect x="183.94" y="219.04" width="1.32" height="1.32" fill="#2b4a8c"/>
<rect x="184.44" y="221.94" width="1.32" height="1.32" fill="#2b4a8c"/>
<rect x="184.04" y="224.14" width="1.32" height="1.32" fill="#2b4a8c"/>
<rect x="212.40" y="226.40" width="1.20" height="1.20" fill="#bc1a44"/>
<rect x="212.40" y="229.30" width="1.20" height="1.20" fill="#bc1a44"/>
<rect x="212.40" y="234.10" width="1.20" height="1.20" fill="#bc1a44"/>
<rect x="212.40" y="238.10" width="1.20" height="1.20" fill="#bc1a44"/>
<rect x="211.30" y="240.30" width="1.20" height="1.20" fill="#bc1a44"/>
<rect x="213.50" y="240.30" width="1.20" height="1.20" fill="#bc1a44"/>
<rect x="212.40" y="242.40" width="1.20" height="1.20" fill="#bc1a44"/>
<rect x="209.20" y="245.00" width="1.20" height="1.20" fill="#bc1a44"/>
<rect x="211.40" y="245.00" width="1.20" height="1.20" fill="#bc1a44"/>
<rect x="213.60" y="245.00" width="1.20" height="1.20" fill="#bc1a44"/>
<rect x="215.80" y="245.00" width="1.20" height="1.20" fill="#bc1a44"/>
<rect x="210.90" y="246.60" width="1.20" height="1.20" fill="#bc1a44"/>
<rect x="213.90" y="246.60" width="1.20" height="1.20" fill="#bc1a44"/>
<rect x="205.40" y="250.50" width="1.20" height="1.20" fill="#bc1a44"/>
<rect x="208.20" y="250.50" width="1.20" height="1.20" fill="#bc1a44"/>
<rect x="210.90" y="250.50" width="1.20" height="1.20" fill="#bc1a44"/>
<rect x="213.90" y="250.50" width="1.20" height="1.20" fill="#bc1a44"/>
<rect x="216.90" y="250.50" width="1.20" height="1.20" fill="#bc1a44"/>
<rect x="219.40" y="250.50" width="1.20" height="1.20" fill="#bc1a44"/>
<rect x="211.10" y="252.70" width="1.20" height="1.20" fill="#bc1a44"/>
<line x1="173.70" y1="244.00" x2="196.80" y2="244.00" stroke="#4d6dab" stroke-width="1.1" />
<line x1="201.40" y1="245.00" x2="224.60" y2="245.00" stroke="#bc1a44" stroke-width="1.1" />
<line x1="209.50" y1="243.40" x2="216.50" y2="243.40" stroke="#bc1a44" stroke-width="1.1" />
<line x1="209.50" y1="246.80" x2="216.50" y2="246.80" stroke="#bc1a44" stroke-width="1.1" />
<line x1="213.00" y1="243.40" x2="213.00" y2="246.80" stroke="#bc1a44" stroke-width="1.1" />
<line x1="258.80" y1="202.20" x2="258.80" y2="257.50" stroke="#000" stroke-width="1.25" />
<line x1="255.80" y1="257.00" x2="258.80" y2="257.00" stroke="#000" stroke-width="0.9" />
<text x="253.20" y="259.30" font-size="6.4" text-anchor="end" fill="#222" font-weight="normal" stroke="#222" stroke-width="0.12" >0</text>
<line x1="255.80" y1="246.54" x2="258.80" y2="246.54" stroke="#000" stroke-width="0.9" />
<text x="253.20" y="248.84" font-size="6.4" text-anchor="end" fill="#222" font-weight="normal" stroke="#222" stroke-width="0.12" >3</text>
<line x1="255.80" y1="236.08" x2="258.80" y2="236.08" stroke="#000" stroke-width="0.9" />
<text x="253.20" y="238.38" font-size="6.4" text-anchor="end" fill="#222" font-weight="normal" stroke="#222" stroke-width="0.12" >6</text>
<line x1="255.80" y1="225.62" x2="258.80" y2="225.62" stroke="#000" stroke-width="0.9" />
<text x="253.20" y="227.92" font-size="6.4" text-anchor="end" fill="#222" font-weight="normal" stroke="#222" stroke-width="0.12" >9</text>
<line x1="255.80" y1="215.16" x2="258.80" y2="215.16" stroke="#000" stroke-width="0.9" />
<text x="253.20" y="217.46" font-size="6.4" text-anchor="end" fill="#222" font-weight="normal" stroke="#222" stroke-width="0.12" >12</text>
<line x1="255.80" y1="204.69" x2="258.80" y2="204.69" stroke="#000" stroke-width="0.9" />
<text x="253.20" y="207.00" font-size="6.4" text-anchor="end" fill="#222" font-weight="normal" stroke="#222" stroke-width="0.12" >15</text>
<line x1="255.80" y1="257.00" x2="327.30" y2="257.00" stroke="#000" stroke-width="1.25" />
<line x1="279.00" y1="257.00" x2="279.00" y2="259.60" stroke="#000" stroke-width="0.9" />
<line x1="308.80" y1="257.00" x2="308.80" y2="259.60" stroke="#000" stroke-width="0.9" />
<text x="279.00" y="268.80" font-size="6.3" text-anchor="middle" fill="#1a1a1a" font-weight="normal" stroke="#1a1a1a" stroke-width="0.06" >nonK666N</text>
<text x="308.80" y="268.80" font-size="6.3" text-anchor="middle" fill="#1a1a1a" font-weight="normal" stroke="#1a1a1a" stroke-width="0.06" >K666N</text>
<text transform="translate(239.60,230.70) rotate(-90) scale(0.66,1)" x="0" y="3.02" font-size="8.4" text-anchor="middle" fill="#111" stroke="#111" stroke-width="0.28">Hb at diagnosis</text>
<rect x="278.07" y="212.71" width="1.36" height="1.36" fill="#2b4a8c"/>
<rect x="277.70" y="213.71" width="1.36" height="1.36" fill="#2b4a8c"/>
<rect x="278.76" y="213.26" width="1.36" height="1.36" fill="#2b4a8c"/>
<rect x="277.61" y="214.67" width="1.36" height="1.36" fill="#2b4a8c"/>
<rect x="278.86" y="215.03" width="1.36" height="1.36" fill="#2b4a8c"/>
<rect x="276.77" y="216.08" width="1.36" height="1.36" fill="#2b4a8c"/>
<rect x="277.89" y="216.12" width="1.36" height="1.36" fill="#2b4a8c"/>
<rect x="279.69" y="216.12" width="1.36" height="1.36" fill="#2b4a8c"/>
<rect x="276.19" y="216.91" width="1.36" height="1.36" fill="#2b4a8c"/>
<rect x="278.50" y="217.32" width="1.36" height="1.36" fill="#2b4a8c"/>
<rect x="280.23" y="216.76" width="1.36" height="1.36" fill="#2b4a8c"/>
<rect x="275.65" y="217.99" width="1.36" height="1.36" fill="#2b4a8c"/>
<rect x="276.98" y="217.93" width="1.36" height="1.36" fill="#2b4a8c"/>
<rect x="278.77" y="217.96" width="1.36" height="1.36" fill="#2b4a8c"/>
<rect x="280.98" y="218.03" width="1.36" height="1.36" fill="#2b4a8c"/>
<rect x="275.24" y="219.17" width="1.36" height="1.36" fill="#2b4a8c"/>
<rect x="276.67" y="219.09" width="1.36" height="1.36" fill="#2b4a8c"/>
<rect x="278.23" y="218.98" width="1.36" height="1.36" fill="#2b4a8c"/>
<rect x="279.86" y="218.98" width="1.36" height="1.36" fill="#2b4a8c"/>
<rect x="282.20" y="219.36" width="1.36" height="1.36" fill="#2b4a8c"/>
<rect x="273.97" y="220.45" width="1.36" height="1.36" fill="#2b4a8c"/>
<rect x="277.02" y="220.19" width="1.36" height="1.36" fill="#2b4a8c"/>
<rect x="278.87" y="220.42" width="1.36" height="1.36" fill="#2b4a8c"/>
<rect x="280.42" y="220.70" width="1.36" height="1.36" fill="#2b4a8c"/>
<rect x="282.28" y="220.47" width="1.36" height="1.36" fill="#2b4a8c"/>
<rect x="273.94" y="221.96" width="1.36" height="1.36" fill="#2b4a8c"/>
<rect x="275.38" y="221.85" width="1.36" height="1.36" fill="#2b4a8c"/>
<rect x="277.75" y="221.72" width="1.36" height="1.36" fill="#2b4a8c"/>
<rect x="279.24" y="221.51" width="1.36" height="1.36" fill="#2b4a8c"/>
<rect x="280.67" y="221.36" width="1.36" height="1.36" fill="#2b4a8c"/>
<rect x="282.58" y="221.79" width="1.36" height="1.36" fill="#2b4a8c"/>
<rect x="272.69" y="222.53" width="1.36" height="1.36" fill="#2b4a8c"/>
<rect x="274.28" y="223.01" width="1.36" height="1.36" fill="#2b4a8c"/>
<rect x="277.08" y="222.89" width="1.36" height="1.36" fill="#2b4a8c"/>
<rect x="278.14" y="222.59" width="1.36" height="1.36" fill="#2b4a8c"/>
<rect x="279.96" y="222.74" width="1.36" height="1.36" fill="#2b4a8c"/>
<rect x="281.60" y="222.73" width="1.36" height="1.36" fill="#2b4a8c"/>
<rect x="283.54" y="223.09" width="1.36" height="1.36" fill="#2b4a8c"/>
<rect x="273.10" y="223.95" width="1.36" height="1.36" fill="#2b4a8c"/>
<rect x="274.08" y="224.25" width="1.36" height="1.36" fill="#2b4a8c"/>
<rect x="276.16" y="223.82" width="1.36" height="1.36" fill="#2b4a8c"/>
<rect x="277.72" y="223.84" width="1.36" height="1.36" fill="#2b4a8c"/>
<rect x="280.38" y="223.92" width="1.36" height="1.36" fill="#2b4a8c"/>
<rect x="281.99" y="223.92" width="1.36" height="1.36" fill="#2b4a8c"/>
<rect x="283.71" y="223.75" width="1.36" height="1.36" fill="#2b4a8c"/>
<rect x="271.49" y="225.00" width="1.36" height="1.36" fill="#2b4a8c"/>
<rect x="273.26" y="224.74" width="1.36" height="1.36" fill="#2b4a8c"/>
<rect x="275.42" y="224.88" width="1.36" height="1.36" fill="#2b4a8c"/>
<rect x="277.61" y="225.09" width="1.36" height="1.36" fill="#2b4a8c"/>
<rect x="279.66" y="225.18" width="1.36" height="1.36" fill="#2b4a8c"/>
<rect x="281.44" y="225.34" width="1.36" height="1.36" fill="#2b4a8c"/>
<rect x="282.85" y="224.95" width="1.36" height="1.36" fill="#2b4a8c"/>
<rect x="285.45" y="224.82" width="1.36" height="1.36" fill="#2b4a8c"/>
<rect x="272.15" y="226.32" width="1.36" height="1.36" fill="#2b4a8c"/>
<rect x="273.13" y="226.45" width="1.36" height="1.36" fill="#2b4a8c"/>
<rect x="276.12" y="226.31" width="1.36" height="1.36" fill="#2b4a8c"/>
<rect x="277.79" y="226.44" width="1.36" height="1.36" fill="#2b4a8c"/>
<rect x="278.88" y="226.24" width="1.36" height="1.36" fill="#2b4a8c"/>
<rect x="281.24" y="226.45" width="1.36" height="1.36" fill="#2b4a8c"/>
<rect x="283.51" y="226.45" width="1.36" height="1.36" fill="#2b4a8c"/>
<rect x="285.10" y="226.49" width="1.36" height="1.36" fill="#2b4a8c"/>
<rect x="272.54" y="227.51" width="1.36" height="1.36" fill="#2b4a8c"/>
<rect x="273.94" y="227.04" width="1.36" height="1.36" fill="#2b4a8c"/>
<rect x="275.85" y="227.27" width="1.36" height="1.36" fill="#2b4a8c"/>
<rect x="277.85" y="227.61" width="1.36" height="1.36" fill="#2b4a8c"/>
<rect x="280.55" y="227.46" width="1.36" height="1.36" fill="#2b4a8c"/>
<rect x="282.69" y="227.50" width="1.36" height="1.36" fill="#2b4a8c"/>
<rect x="284.54" y="227.02" width="1.36" height="1.36" fill="#2b4a8c"/>
<rect x="273.65" y="228.69" width="1.36" height="1.36" fill="#2b4a8c"/>
<rect x="275.30" y="228.54" width="1.36" height="1.36" fill="#2b4a8c"/>
<rect x="277.61" y="228.22" width="1.36" height="1.36" fill="#2b4a8c"/>
<rect x="279.80" y="228.35" width="1.36" height="1.36" fill="#2b4a8c"/>
<rect x="280.92" y="228.36" width="1.36" height="1.36" fill="#2b4a8c"/>
<rect x="283.95" y="228.31" width="1.36" height="1.36" fill="#2b4a8c"/>
<rect x="274.15" y="230.00" width="1.36" height="1.36" fill="#2b4a8c"/>
<rect x="275.66" y="229.59" width="1.36" height="1.36" fill="#2b4a8c"/>
<rect x="277.48" y="229.80" width="1.36" height="1.36" fill="#2b4a8c"/>
<rect x="279.68" y="229.75" width="1.36" height="1.36" fill="#2b4a8c"/>
<rect x="281.35" y="229.37" width="1.36" height="1.36" fill="#2b4a8c"/>
<rect x="282.55" y="229.50" width="1.36" height="1.36" fill="#2b4a8c"/>
<rect x="274.65" y="230.68" width="1.36" height="1.36" fill="#2b4a8c"/>
<rect x="276.46" y="230.48" width="1.36" height="1.36" fill="#2b4a8c"/>
<rect x="277.79" y="230.66" width="1.36" height="1.36" fill="#2b4a8c"/>
<rect x="280.73" y="230.95" width="1.36" height="1.36" fill="#2b4a8c"/>
<rect x="282.79" y="230.67" width="1.36" height="1.36" fill="#2b4a8c"/>
<rect x="274.60" y="231.95" width="1.36" height="1.36" fill="#2b4a8c"/>
<rect x="276.45" y="231.70" width="1.36" height="1.36" fill="#2b4a8c"/>
<rect x="278.95" y="231.76" width="1.36" height="1.36" fill="#2b4a8c"/>
<rect x="280.99" y="232.28" width="1.36" height="1.36" fill="#2b4a8c"/>
<rect x="281.61" y="231.94" width="1.36" height="1.36" fill="#2b4a8c"/>
<rect x="275.25" y="233.45" width="1.36" height="1.36" fill="#2b4a8c"/>
<rect x="276.57" y="232.96" width="1.36" height="1.36" fill="#2b4a8c"/>
<rect x="278.06" y="233.43" width="1.36" height="1.36" fill="#2b4a8c"/>
<rect x="279.84" y="233.18" width="1.36" height="1.36" fill="#2b4a8c"/>
<rect x="281.54" y="233.14" width="1.36" height="1.36" fill="#2b4a8c"/>
<rect x="275.96" y="234.01" width="1.36" height="1.36" fill="#2b4a8c"/>
<rect x="277.85" y="234.28" width="1.36" height="1.36" fill="#2b4a8c"/>
<rect x="280.02" y="234.41" width="1.36" height="1.36" fill="#2b4a8c"/>
<rect x="281.15" y="234.55" width="1.36" height="1.36" fill="#2b4a8c"/>
<rect x="275.49" y="235.09" width="1.36" height="1.36" fill="#2b4a8c"/>
<rect x="276.78" y="235.41" width="1.36" height="1.36" fill="#2b4a8c"/>
<rect x="279.32" y="235.28" width="1.36" height="1.36" fill="#2b4a8c"/>
<rect x="280.84" y="235.31" width="1.36" height="1.36" fill="#2b4a8c"/>
<rect x="275.50" y="236.81" width="1.36" height="1.36" fill="#2b4a8c"/>
<rect x="276.90" y="236.75" width="1.36" height="1.36" fill="#2b4a8c"/>
<rect x="279.74" y="236.30" width="1.36" height="1.36" fill="#2b4a8c"/>
<rect x="281.65" y="236.72" width="1.36" height="1.36" fill="#2b4a8c"/>
<rect x="276.85" y="237.57" width="1.36" height="1.36" fill="#2b4a8c"/>
<rect x="278.22" y="237.65" width="1.36" height="1.36" fill="#2b4a8c"/>
<rect x="281.37" y="237.78" width="1.36" height="1.36" fill="#2b4a8c"/>
<rect x="276.27" y="238.82" width="1.36" height="1.36" fill="#2b4a8c"/>
<rect x="278.11" y="238.55" width="1.36" height="1.36" fill="#2b4a8c"/>
<rect x="279.83" y="239.10" width="1.36" height="1.36" fill="#2b4a8c"/>
<rect x="276.43" y="240.32" width="1.36" height="1.36" fill="#2b4a8c"/>
<rect x="278.12" y="239.86" width="1.36" height="1.36" fill="#2b4a8c"/>
<rect x="280.16" y="239.80" width="1.36" height="1.36" fill="#2b4a8c"/>
<rect x="277.10" y="241.49" width="1.36" height="1.36" fill="#2b4a8c"/>
<rect x="280.15" y="241.39" width="1.36" height="1.36" fill="#2b4a8c"/>
<rect x="278.60" y="242.61" width="1.36" height="1.36" fill="#2b4a8c"/>
<rect x="308.00" y="207.10" width="1.20" height="1.20" fill="#bc1a44"/>
<rect x="308.00" y="212.90" width="1.20" height="1.20" fill="#bc1a44"/>
<rect x="308.00" y="216.10" width="1.20" height="1.20" fill="#bc1a44"/>
<rect x="306.50" y="218.40" width="1.20" height="1.20" fill="#bc1a44"/>
<rect x="309.50" y="220.40" width="1.20" height="1.20" fill="#bc1a44"/>
<rect x="305.00" y="222.40" width="1.20" height="1.20" fill="#bc1a44"/>
<rect x="308.00" y="222.40" width="1.20" height="1.20" fill="#bc1a44"/>
<rect x="310.50" y="222.40" width="1.20" height="1.20" fill="#bc1a44"/>
<rect x="306.00" y="224.90" width="1.20" height="1.20" fill="#bc1a44"/>
<rect x="309.00" y="224.90" width="1.20" height="1.20" fill="#bc1a44"/>
<rect x="311.50" y="224.90" width="1.20" height="1.20" fill="#bc1a44"/>
<rect x="307.00" y="227.40" width="1.20" height="1.20" fill="#bc1a44"/>
<rect x="309.50" y="227.40" width="1.20" height="1.20" fill="#bc1a44"/>
<rect x="308.00" y="230.00" width="1.20" height="1.20" fill="#bc1a44"/>
<rect x="305.50" y="233.60" width="1.20" height="1.20" fill="#bc1a44"/>
<rect x="308.00" y="233.60" width="1.20" height="1.20" fill="#bc1a44"/>
<rect x="310.50" y="233.60" width="1.20" height="1.20" fill="#bc1a44"/>
<line x1="267.10" y1="227.80" x2="291.70" y2="227.80" stroke="#4d6dab" stroke-width="1.1" />
<line x1="296.70" y1="224.50" x2="320.50" y2="224.50" stroke="#bc1a44" stroke-width="1.1" />
<line x1="304.10" y1="222.00" x2="313.10" y2="222.00" stroke="#bc1a44" stroke-width="1.1" />
<line x1="304.10" y1="226.80" x2="313.10" y2="226.80" stroke="#bc1a44" stroke-width="1.1" />
<line x1="308.60" y1="222.00" x2="308.60" y2="226.80" stroke="#bc1a44" stroke-width="1.1" />
<path d="M278.9,209.2 V198.4 H309.1 V204.6" fill="none" stroke="#333" stroke-width="1"/>
<text x="293.80" y="199.20" font-size="5.5" text-anchor="middle" fill="#222" font-weight="normal" stroke="#222" stroke-width="0.22" >*</text>
<line x1="360.20" y1="204.00" x2="360.20" y2="257.50" stroke="#000" stroke-width="1.25" />
<line x1="357.20" y1="257.00" x2="360.20" y2="257.00" stroke="#000" stroke-width="0.9" />
<text x="354.60" y="259.30" font-size="6.4" text-anchor="end" fill="#222" font-weight="normal" stroke="#222" stroke-width="0.12" >0</text>
<line x1="357.20" y1="241.70" x2="360.20" y2="241.70" stroke="#000" stroke-width="0.9" />
<text x="354.60" y="244.00" font-size="6.4" text-anchor="end" fill="#222" font-weight="normal" stroke="#222" stroke-width="0.12" >200</text>
<line x1="357.20" y1="226.40" x2="360.20" y2="226.40" stroke="#000" stroke-width="0.9" />
<text x="354.60" y="228.70" font-size="6.4" text-anchor="end" fill="#222" font-weight="normal" stroke="#222" stroke-width="0.12" >400</text>
<line x1="357.20" y1="211.10" x2="360.20" y2="211.10" stroke="#000" stroke-width="0.9" />
<text x="354.60" y="213.40" font-size="6.4" text-anchor="end" fill="#222" font-weight="normal" stroke="#222" stroke-width="0.12" >600</text>
<line x1="357.20" y1="257.00" x2="426.80" y2="257.00" stroke="#000" stroke-width="1.25" />
<line x1="379.50" y1="257.00" x2="379.50" y2="259.60" stroke="#000" stroke-width="0.9" />
<line x1="407.80" y1="257.00" x2="407.80" y2="259.60" stroke="#000" stroke-width="0.9" />
<text x="379.50" y="268.80" font-size="6.3" text-anchor="middle" fill="#1a1a1a" font-weight="normal" stroke="#1a1a1a" stroke-width="0.06" >nonK666N</text>
<text x="407.80" y="268.80" font-size="6.3" text-anchor="middle" fill="#1a1a1a" font-weight="normal" stroke="#1a1a1a" stroke-width="0.06" >K666N</text>
<text transform="translate(336.00,230.10) rotate(-90) scale(0.64,1)" x="0" y="3.02" font-size="8.4" text-anchor="middle" fill="#111" stroke="#111" stroke-width="0.28">PLTs at diagnosis</text>
<rect x="379.49" y="218.73" width="1.40" height="1.40" fill="#2b4a8c"/>
<rect x="379.22" y="219.53" width="1.40" height="1.40" fill="#2b4a8c"/>
<rect x="377.72" y="220.97" width="1.40" height="1.40" fill="#2b4a8c"/>
<rect x="380.66" y="221.10" width="1.40" height="1.40" fill="#2b4a8c"/>
<rect x="376.46" y="221.83" width="1.40" height="1.40" fill="#2b4a8c"/>
<rect x="381.46" y="221.89" width="1.40" height="1.40" fill="#2b4a8c"/>
<rect x="376.62" y="223.19" width="1.40" height="1.40" fill="#2b4a8c"/>
<rect x="380.13" y="223.47" width="1.40" height="1.40" fill="#2b4a8c"/>
<rect x="377.99" y="224.28" width="1.40" height="1.40" fill="#2b4a8c"/>
<rect x="381.29" y="224.31" width="1.40" height="1.40" fill="#2b4a8c"/>
<rect x="375.83" y="225.53" width="1.40" height="1.40" fill="#2b4a8c"/>
<rect x="378.00" y="225.36" width="1.40" height="1.40" fill="#2b4a8c"/>
<rect x="381.08" y="225.88" width="1.40" height="1.40" fill="#2b4a8c"/>
<rect x="375.54" y="226.55" width="1.40" height="1.40" fill="#2b4a8c"/>
<rect x="379.60" y="227.10" width="1.40" height="1.40" fill="#2b4a8c"/>
<rect x="381.75" y="226.50" width="1.40" height="1.40" fill="#2b4a8c"/>
<rect x="374.67" y="227.61" width="1.40" height="1.40" fill="#2b4a8c"/>
<rect x="378.33" y="227.61" width="1.40" height="1.40" fill="#2b4a8c"/>
<rect x="381.41" y="227.73" width="1.40" height="1.40" fill="#2b4a8c"/>
<rect x="375.39" y="229.32" width="1.40" height="1.40" fill="#2b4a8c"/>
<rect x="379.31" y="228.99" width="1.40" height="1.40" fill="#2b4a8c"/>
<rect x="381.97" y="229.07" width="1.40" height="1.40" fill="#2b4a8c"/>
<rect x="374.74" y="230.09" width="1.40" height="1.40" fill="#2b4a8c"/>
<rect x="377.58" y="230.04" width="1.40" height="1.40" fill="#2b4a8c"/>
<rect x="383.54" y="229.94" width="1.40" height="1.40" fill="#2b4a8c"/>
<rect x="374.90" y="231.44" width="1.40" height="1.40" fill="#2b4a8c"/>
<rect x="379.67" y="231.15" width="1.40" height="1.40" fill="#2b4a8c"/>
<rect x="381.90" y="231.17" width="1.40" height="1.40" fill="#2b4a8c"/>
<rect x="374.45" y="232.46" width="1.40" height="1.40" fill="#2b4a8c"/>
<rect x="379.96" y="232.74" width="1.40" height="1.40" fill="#2b4a8c"/>
<rect x="383.71" y="232.17" width="1.40" height="1.40" fill="#2b4a8c"/>
<rect x="373.12" y="233.80" width="1.40" height="1.40" fill="#2b4a8c"/>
<rect x="378.02" y="233.63" width="1.40" height="1.40" fill="#2b4a8c"/>
<rect x="380.41" y="233.30" width="1.40" height="1.40" fill="#2b4a8c"/>
<rect x="383.05" y="233.95" width="1.40" height="1.40" fill="#2b4a8c"/>
<rect x="374.74" y="235.05" width="1.40" height="1.40" fill="#2b4a8c"/>
<rect x="378.17" y="234.62" width="1.40" height="1.40" fill="#2b4a8c"/>
<rect x="379.40" y="234.56" width="1.40" height="1.40" fill="#2b4a8c"/>
<rect x="383.42" y="234.93" width="1.40" height="1.40" fill="#2b4a8c"/>
<rect x="374.92" y="236.11" width="1.40" height="1.40" fill="#2b4a8c"/>
<rect x="377.44" y="236.14" width="1.40" height="1.40" fill="#2b4a8c"/>
<rect x="380.19" y="235.99" width="1.40" height="1.40" fill="#2b4a8c"/>
<rect x="382.44" y="236.15" width="1.40" height="1.40" fill="#2b4a8c"/>
<rect x="373.23" y="237.39" width="1.40" height="1.40" fill="#2b4a8c"/>
<rect x="377.41" y="236.96" width="1.40" height="1.40" fill="#2b4a8c"/>
<rect x="379.48" y="236.93" width="1.40" height="1.40" fill="#2b4a8c"/>
<rect x="383.87" y="237.24" width="1.40" height="1.40" fill="#2b4a8c"/>
<rect x="372.84" y="237.95" width="1.40" height="1.40" fill="#2b4a8c"/>
<rect x="377.10" y="238.31" width="1.40" height="1.40" fill="#2b4a8c"/>
<rect x="380.10" y="238.06" width="1.40" height="1.40" fill="#2b4a8c"/>
<rect x="383.90" y="237.91" width="1.40" height="1.40" fill="#2b4a8c"/>
<rect x="373.16" y="239.37" width="1.40" height="1.40" fill="#2b4a8c"/>
<rect x="378.10" y="239.50" width="1.40" height="1.40" fill="#2b4a8c"/>
<rect x="381.30" y="239.38" width="1.40" height="1.40" fill="#2b4a8c"/>
<rect x="383.14" y="239.22" width="1.40" height="1.40" fill="#2b4a8c"/>
<rect x="374.63" y="240.69" width="1.40" height="1.40" fill="#2b4a8c"/>
<rect x="376.51" y="240.22" width="1.40" height="1.40" fill="#2b4a8c"/>
<rect x="380.42" y="240.67" width="1.40" height="1.40" fill="#2b4a8c"/>
<rect x="383.69" y="240.38" width="1.40" height="1.40" fill="#2b4a8c"/>
<rect x="373.86" y="242.00" width="1.40" height="1.40" fill="#2b4a8c"/>
<rect x="376.28" y="241.37" width="1.40" height="1.40" fill="#2b4a8c"/>
<rect x="380.05" y="241.64" width="1.40" height="1.40" fill="#2b4a8c"/>
<rect x="384.40" y="241.49" width="1.40" height="1.40" fill="#2b4a8c"/>
<rect x="374.18" y="243.02" width="1.40" height="1.40" fill="#2b4a8c"/>
<rect x="376.96" y="242.64" width="1.40" height="1.40" fill="#2b4a8c"/>
<rect x="381.60" y="242.72" width="1.40" height="1.40" fill="#2b4a8c"/>
<rect x="384.73" y="242.66" width="1.40" height="1.40" fill="#2b4a8c"/>
<rect x="372.77" y="244.18" width="1.40" height="1.40" fill="#2b4a8c"/>
<rect x="376.45" y="244.32" width="1.40" height="1.40" fill="#2b4a8c"/>
<rect x="380.44" y="243.78" width="1.40" height="1.40" fill="#2b4a8c"/>
<rect x="383.27" y="243.94" width="1.40" height="1.40" fill="#2b4a8c"/>
<rect x="373.85" y="245.46" width="1.40" height="1.40" fill="#2b4a8c"/>
<rect x="376.08" y="245.08" width="1.40" height="1.40" fill="#2b4a8c"/>
<rect x="379.75" y="245.48" width="1.40" height="1.40" fill="#2b4a8c"/>
<rect x="383.07" y="244.84" width="1.40" height="1.40" fill="#2b4a8c"/>
<rect x="372.37" y="246.23" width="1.40" height="1.40" fill="#2b4a8c"/>
<rect x="377.93" y="246.57" width="1.40" height="1.40" fill="#2b4a8c"/>
<rect x="381.02" y="246.65" width="1.40" height="1.40" fill="#2b4a8c"/>
<rect x="385.01" y="246.18" width="1.40" height="1.40" fill="#2b4a8c"/>
<rect x="372.68" y="247.76" width="1.40" height="1.40" fill="#2b4a8c"/>
<rect x="377.55" y="247.12" width="1.40" height="1.40" fill="#2b4a8c"/>
<rect x="380.85" y="247.37" width="1.40" height="1.40" fill="#2b4a8c"/>
<rect x="383.64" y="247.33" width="1.40" height="1.40" fill="#2b4a8c"/>
<rect x="372.64" y="248.25" width="1.40" height="1.40" fill="#2b4a8c"/>
<rect x="376.41" y="248.50" width="1.40" height="1.40" fill="#2b4a8c"/>
<rect x="381.57" y="248.34" width="1.40" height="1.40" fill="#2b4a8c"/>
<rect x="385.09" y="248.40" width="1.40" height="1.40" fill="#2b4a8c"/>
<rect x="373.10" y="249.98" width="1.40" height="1.40" fill="#2b4a8c"/>
<rect x="377.74" y="249.70" width="1.40" height="1.40" fill="#2b4a8c"/>
<rect x="379.35" y="249.73" width="1.40" height="1.40" fill="#2b4a8c"/>
<rect x="383.64" y="250.04" width="1.40" height="1.40" fill="#2b4a8c"/>
<rect x="372.90" y="250.80" width="1.40" height="1.40" fill="#2b4a8c"/>
<rect x="377.95" y="250.57" width="1.40" height="1.40" fill="#2b4a8c"/>
<rect x="380.18" y="251.12" width="1.40" height="1.40" fill="#2b4a8c"/>
<rect x="384.41" y="250.58" width="1.40" height="1.40" fill="#2b4a8c"/>
<rect x="372.75" y="251.74" width="1.40" height="1.40" fill="#2b4a8c"/>
<rect x="378.03" y="251.88" width="1.40" height="1.40" fill="#2b4a8c"/>
<rect x="380.89" y="252.33" width="1.40" height="1.40" fill="#2b4a8c"/>
<rect x="383.22" y="251.89" width="1.40" height="1.40" fill="#2b4a8c"/>
<rect x="375.00" y="253.28" width="1.40" height="1.40" fill="#2b4a8c"/>
<rect x="376.61" y="253.35" width="1.40" height="1.40" fill="#2b4a8c"/>
<rect x="379.87" y="253.04" width="1.40" height="1.40" fill="#2b4a8c"/>
<rect x="382.32" y="253.38" width="1.40" height="1.40" fill="#2b4a8c"/>
<rect x="375.85" y="254.44" width="1.40" height="1.40" fill="#2b4a8c"/>
<rect x="379.95" y="254.02" width="1.40" height="1.40" fill="#2b4a8c"/>
<rect x="381.97" y="254.33" width="1.40" height="1.40" fill="#2b4a8c"/>
<rect x="376.33" y="255.82" width="1.40" height="1.40" fill="#2b4a8c"/>
<rect x="378.42" y="255.33" width="1.40" height="1.40" fill="#2b4a8c"/>
<rect x="382.02" y="255.50" width="1.40" height="1.40" fill="#2b4a8c"/>
<rect x="378.70" y="207.40" width="1.40" height="1.40" fill="#2b4a8c"/>
<rect x="407.40" y="243.70" width="1.20" height="1.20" fill="#bc1a44"/>
<rect x="405.40" y="245.90" width="1.20" height="1.20" fill="#bc1a44"/>
<rect x="409.40" y="245.90" width="1.20" height="1.20" fill="#bc1a44"/>
<rect x="403.40" y="247.90" width="1.20" height="1.20" fill="#bc1a44"/>
<rect x="406.40" y="247.90" width="1.20" height="1.20" fill="#bc1a44"/>
<rect x="410.40" y="247.90" width="1.20" height="1.20" fill="#bc1a44"/>
<rect x="404.40" y="249.90" width="1.20" height="1.20" fill="#bc1a44"/>
<rect x="407.40" y="249.90" width="1.20" height="1.20" fill="#bc1a44"/>
<rect x="410.90" y="249.90" width="1.20" height="1.20" fill="#bc1a44"/>
<rect x="405.40" y="251.90" width="1.20" height="1.20" fill="#bc1a44"/>
<rect x="408.90" y="251.90" width="1.20" height="1.20" fill="#bc1a44"/>
<rect x="406.40" y="253.90" width="1.20" height="1.20" fill="#bc1a44"/>
<rect x="409.40" y="253.90" width="1.20" height="1.20" fill="#bc1a44"/>
<rect x="407.40" y="255.40" width="1.20" height="1.20" fill="#bc1a44"/>
<line x1="367.50" y1="242.00" x2="390.80" y2="242.00" stroke="#34569a" stroke-width="1.3" />
<line x1="396.20" y1="250.50" x2="419.80" y2="250.50" stroke="#bc1a44" stroke-width="1.1" />
<line x1="404.50" y1="249.00" x2="411.50" y2="249.00" stroke="#bc1a44" stroke-width="1.1" />
<line x1="404.50" y1="252.00" x2="411.50" y2="252.00" stroke="#bc1a44" stroke-width="1.1" />
<line x1="408.00" y1="249.00" x2="408.00" y2="252.00" stroke="#bc1a44" stroke-width="1.1" />
<path d="M379.1,201.8 V199.1 H408 V239.6" fill="none" stroke="#333" stroke-width="1"/>
<text x="393.30" y="199.80" font-size="5.5" text-anchor="middle" fill="#222" font-weight="normal" stroke="#222" stroke-width="0.22" >****</text>
<line x1="476.30" y1="206.50" x2="476.30" y2="257.80" stroke="#000" stroke-width="1.25" />
<line x1="473.30" y1="257.30" x2="476.30" y2="257.30" stroke="#000" stroke-width="0.9" />
<text x="470.70" y="259.60" font-size="6.4" text-anchor="end" fill="#222" font-weight="normal" stroke="#222" stroke-width="0.12" >0</text>
<line x1="473.30" y1="247.68" x2="476.30" y2="247.68" stroke="#000" stroke-width="0.9" />
<text x="470.70" y="249.98" font-size="6.4" text-anchor="end" fill="#222" font-weight="normal" stroke="#222" stroke-width="0.12" >20</text>
<line x1="473.30" y1="238.06" x2="476.30" y2="238.06" stroke="#000" stroke-width="0.9" />
<text x="470.70" y="240.36" font-size="6.4" text-anchor="end" fill="#222" font-weight="normal" stroke="#222" stroke-width="0.12" >40</text>
<line x1="473.30" y1="228.44" x2="476.30" y2="228.44" stroke="#000" stroke-width="0.9" />
<text x="470.70" y="230.74" font-size="6.4" text-anchor="end" fill="#222" font-weight="normal" stroke="#222" stroke-width="0.12" >60</text>
<line x1="473.30" y1="218.82" x2="476.30" y2="218.82" stroke="#000" stroke-width="0.9" />
<text x="470.70" y="221.12" font-size="6.4" text-anchor="end" fill="#222" font-weight="normal" stroke="#222" stroke-width="0.12" >80</text>
<line x1="473.30" y1="209.20" x2="476.30" y2="209.20" stroke="#000" stroke-width="0.9" />
<text x="470.70" y="211.50" font-size="6.4" text-anchor="end" fill="#222" font-weight="normal" stroke="#222" stroke-width="0.12" >100</text>
<line x1="473.30" y1="257.30" x2="503.80" y2="257.30" stroke="#000" stroke-width="1.25" />
<rect x="480.60" y="254.17" width="7.20" height="3.13" fill="#5db33c"/>
<rect x="480.60" y="249.12" width="7.20" height="5.05" fill="#24448a"/>
<rect x="480.60" y="215.93" width="7.20" height="33.19" fill="#a8102e"/>
<rect x="492.20" y="256.10" width="7.10" height="1.20" fill="#5db33c"/>
<rect x="492.20" y="252.97" width="7.10" height="3.13" fill="#24448a"/>
<rect x="492.20" y="251.43" width="7.10" height="1.54" fill="#a8102e"/>
<line x1="484.20" y1="257.30" x2="484.20" y2="259.70" stroke="#000" stroke-width="0.9" />
<line x1="495.80" y1="257.30" x2="495.80" y2="259.70" stroke="#000" stroke-width="0.9" />
<text transform="translate(487.5,265.8) rotate(-45)" font-size="6.3" text-anchor="end" fill="#222">nonK666N</text>
<text transform="translate(499.3,265.8) rotate(-45)" font-size="6.3" text-anchor="end" fill="#222">K666N</text>
<path d="M484.20,211.60 V207.70 H496.20 V246.80" fill="none" stroke="#222" stroke-width="0.9"/>
<text x="490.20" y="207.60" font-size="5.5" text-anchor="middle" fill="#222" font-weight="normal" stroke="#222" stroke-width="0.22" >***</text>
<text transform="translate(451.30,232.00) rotate(-90) scale(0.645,1)" x="0" y="3.17" font-size="8.8" text-anchor="middle" fill="#111" stroke="#111" stroke-width="0.4">Counts</text>
<rect x="471.60" y="179.30" width="5.20" height="1.80" fill="#a8102e"/>
<text x="479.80" y="182.10" font-size="5.2" text-anchor="start" fill="#222" font-weight="normal" stroke="#222" stroke-width="0.22" >RS &gt; 15%</text>
<rect x="471.60" y="187.90" width="5.20" height="1.80" fill="#24448a"/>
<text x="479.80" y="190.70" font-size="5.2" text-anchor="start" fill="#222" font-weight="normal" stroke="#222" stroke-width="0.22" >RS = 5-15%</text>
<rect x="471.60" y="196.60" width="5.20" height="1.80" fill="#5db33c"/>
<text x="479.80" y="199.40" font-size="5.2" text-anchor="start" fill="#222" font-weight="normal" stroke="#222" stroke-width="0.22" >RS &lt; 5%</text>
<line x1="46.80" y1="315.36" x2="46.80" y2="379.80" stroke="#000" stroke-width="1.25" />
<line x1="43.80" y1="379.30" x2="46.80" y2="379.30" stroke="#000" stroke-width="0.9" />
<text x="41.20" y="381.60" font-size="6.4" text-anchor="end" fill="#222" font-weight="normal" stroke="#222" stroke-width="0.12" >0</text>
<line x1="45.00" y1="376.52" x2="46.80" y2="376.52" stroke="#000" stroke-width="0.8" />
<line x1="45.00" y1="373.74" x2="46.80" y2="373.74" stroke="#000" stroke-width="0.8" />
<line x1="45.00" y1="370.96" x2="46.80" y2="370.96" stroke="#000" stroke-width="0.8" />
<line x1="45.00" y1="368.18" x2="46.80" y2="368.18" stroke="#000" stroke-width="0.8" />
<line x1="45.00" y1="365.40" x2="46.80" y2="365.40" stroke="#000" stroke-width="0.8" />
<line x1="45.00" y1="362.62" x2="46.80" y2="362.62" stroke="#000" stroke-width="0.8" />
<line x1="45.00" y1="359.84" x2="46.80" y2="359.84" stroke="#000" stroke-width="0.8" />
<line x1="45.00" y1="357.06" x2="46.80" y2="357.06" stroke="#000" stroke-width="0.8" />
<line x1="45.00" y1="354.28" x2="46.80" y2="354.28" stroke="#000" stroke-width="0.8" />
<line x1="43.80" y1="351.50" x2="46.80" y2="351.50" stroke="#000" stroke-width="0.9" />
<text x="41.20" y="353.80" font-size="6.4" text-anchor="end" fill="#222" font-weight="normal" stroke="#222" stroke-width="0.12" >50</text>
<line x1="45.00" y1="348.72" x2="46.80" y2="348.72" stroke="#000" stroke-width="0.8" />
<line x1="45.00" y1="345.94" x2="46.80" y2="345.94" stroke="#000" stroke-width="0.8" />
<line x1="45.00" y1="343.16" x2="46.80" y2="343.16" stroke="#000" stroke-width="0.8" />
<line x1="45.00" y1="340.38" x2="46.80" y2="340.38" stroke="#000" stroke-width="0.8" />
<line x1="45.00" y1="337.60" x2="46.80" y2="337.60" stroke="#000" stroke-width="0.8" />
<line x1="45.00" y1="334.82" x2="46.80" y2="334.82" stroke="#000" stroke-width="0.8" />
<line x1="45.00" y1="332.04" x2="46.80" y2="332.04" stroke="#000" stroke-width="0.8" />
<line x1="45.00" y1="329.26" x2="46.80" y2="329.26" stroke="#000" stroke-width="0.8" />
<line x1="45.00" y1="326.48" x2="46.80" y2="326.48" stroke="#000" stroke-width="0.8" />
<line x1="43.80" y1="323.70" x2="46.80" y2="323.70" stroke="#000" stroke-width="0.9" />
<text x="41.20" y="326.00" font-size="6.4" text-anchor="end" fill="#222" font-weight="normal" stroke="#222" stroke-width="0.12" >100</text>
<line x1="45.00" y1="320.92" x2="46.80" y2="320.92" stroke="#000" stroke-width="0.8" />
<line x1="45.00" y1="318.14" x2="46.80" y2="318.14" stroke="#000" stroke-width="0.8" />
<line x1="45.00" y1="315.36" x2="46.80" y2="315.36" stroke="#000" stroke-width="0.8" />
<line x1="44.80" y1="379.30" x2="140.10" y2="379.30" stroke="#000" stroke-width="1.25" />
<line x1="46.80" y1="379.30" x2="46.80" y2="381.70" stroke="#000" stroke-width="0.9" />
<text x="46.80" y="390.90" font-size="6.4" text-anchor="middle" fill="#222" font-weight="normal" stroke="#222" stroke-width="0.12" >0</text>
<line x1="69.55" y1="379.30" x2="69.55" y2="381.70" stroke="#000" stroke-width="0.9" />
<text x="69.55" y="390.90" font-size="6.4" text-anchor="middle" fill="#222" font-weight="normal" stroke="#222" stroke-width="0.12" >5</text>
<line x1="92.30" y1="379.30" x2="92.30" y2="381.70" stroke="#000" stroke-width="0.9" />
<text x="92.30" y="390.90" font-size="6.4" text-anchor="middle" fill="#222" font-weight="normal" stroke="#222" stroke-width="0.12" >10</text>
<line x1="115.05" y1="379.30" x2="115.05" y2="381.70" stroke="#000" stroke-width="0.9" />
<text x="115.05" y="390.90" font-size="6.4" text-anchor="middle" fill="#222" font-weight="normal" stroke="#222" stroke-width="0.12" >15</text>
<line x1="137.80" y1="379.30" x2="137.80" y2="381.70" stroke="#000" stroke-width="0.9" />
<text x="137.80" y="390.90" font-size="6.4" text-anchor="middle" fill="#222" font-weight="normal" stroke="#222" stroke-width="0.12" >20</text>
<text transform="translate(22.40,348.50) rotate(-90) scale(0.7,1)" x="0" y="2.77" font-size="7.7" text-anchor="middle" fill="#111" stroke="#111" stroke-width="0.5">Overall survival</text>
<text transform="translate(93.60,402.30) scale(0.62,1)" x="0" y="0" font-size="8.6" text-anchor="middle" fill="#111" stroke="#111" stroke-width="0.5">Years</text>
<text x="57.90" y="310.50" font-size="8.5" letter-spacing="0" fill="#111" stroke="#111" stroke-width="0.3">All SF3B1<tspan font-size="5.9" dy="-3.5">MUT</tspan><tspan dy="3.5"> MDS</tspan></text>
<path d="M46.80,323.70 H48.16 V325.92 H48.77 V327.41 H49.38 V328.89 H49.98 V330.37 H50.33 V331.76 H50.67 V333.15 H51.01 V334.54 H51.35 V335.93 H51.65 V337.41 H51.96 V338.90 H52.26 V340.38 H52.62 V341.94 H52.99 V343.49 H56.13 V343.49 H56.13 V347.05 H57.04 V347.05 H57.04 V352.78 H73.42 V352.78 H73.42 V365.79 H80.70 V365.79" fill="none" stroke="#3d5d9a" stroke-width="1.1" stroke-linejoin="miter" stroke-linecap="butt"/>
<path d="M46.80,323.70 H48.39 V324.53 H49.98 V325.37 H51.58 V326.20 H53.49 V328.15 H54.55 V329.41 H55.61 V330.67 H56.67 V331.93 H57.79 V333.21 H58.90 V334.49 H60.02 V335.77 H61.13 V337.04 H62.72 V337.60 H64.32 V338.16 H65.57 V338.49 H66.82 V338.82 H68.07 V339.16 H69.32 V339.49 H70.58 V340.57 H71.84 V341.64 H73.10 V342.72 H74.36 V342.72 H75.63 V342.72 H76.89 V342.72 H78.15 V342.72 H79.42 V342.72 H80.68 V342.72 H81.95 V342.72 H83.21 V342.72 H84.47 V342.72 H85.57 V343.98 H86.66 V345.24 H87.75 V346.50 H88.96 V347.13 H90.18 V347.76 H91.39 V348.39 H91.84 V351.50 H104.13 V351.50 H104.13 V357.06 H126.42 V357.06 H126.42 V367.90 H133.25 V367.90" fill="none" stroke="#c0103a" stroke-width="1.2" stroke-linejoin="miter" stroke-linecap="butt"/>
<line x1="49.07" y1="323.89" x2="49.07" y2="325.89" stroke="#c0103a" stroke-width="0.7" />
<line x1="52.71" y1="326.36" x2="52.71" y2="328.36" stroke="#c0103a" stroke-width="0.7" />
<line x1="55.44" y1="329.47" x2="55.44" y2="331.47" stroke="#c0103a" stroke-width="0.7" />
<line x1="58.63" y1="333.17" x2="58.63" y2="335.17" stroke="#c0103a" stroke-width="0.7" />
<line x1="62.27" y1="336.44" x2="62.27" y2="338.44" stroke="#c0103a" stroke-width="0.7" />
<line x1="65.45" y1="337.46" x2="65.45" y2="339.46" stroke="#c0103a" stroke-width="0.7" />
<line x1="67.73" y1="338.07" x2="67.73" y2="340.07" stroke="#c0103a" stroke-width="0.7" />
<line x1="70.91" y1="339.85" x2="70.91" y2="341.85" stroke="#c0103a" stroke-width="0.7" />
<line x1="75.92" y1="341.72" x2="75.92" y2="343.72" stroke="#c0103a" stroke-width="0.7" />
<line x1="78.65" y1="341.72" x2="78.65" y2="343.72" stroke="#c0103a" stroke-width="0.7" />
<line x1="81.38" y1="341.72" x2="81.38" y2="343.72" stroke="#c0103a" stroke-width="0.7" />
<line x1="85.93" y1="343.40" x2="85.93" y2="345.40" stroke="#c0103a" stroke-width="0.7" />
<line x1="95.03" y1="350.50" x2="95.03" y2="352.50" stroke="#c0103a" stroke-width="0.7" />
<line x1="98.22" y1="350.50" x2="98.22" y2="352.50" stroke="#c0103a" stroke-width="0.7" />
<line x1="117.32" y1="356.06" x2="117.32" y2="358.06" stroke="#c0103a" stroke-width="0.7" />
<line x1="63.18" y1="351.78" x2="63.18" y2="353.78" stroke="#3d5d9a" stroke-width="0.7" />
<line x1="66.82" y1="351.78" x2="66.82" y2="353.78" stroke="#3d5d9a" stroke-width="0.7" />
<line x1="102.70" y1="319.40" x2="108.90" y2="319.40" stroke="#c0103a" stroke-width="1.1" />
<line x1="105.80" y1="318.50" x2="105.80" y2="320.30" stroke="#c0103a" stroke-width="0.6" />
<line x1="105.80" y1="328.90" x2="105.80" y2="330.70" stroke="#3a5c9c" stroke-width="0.6" />
<text x="112.30" y="321.30" font-size="5.3" text-anchor="start" fill="#222" font-weight="normal" stroke="#222" stroke-width="0.1" font-style="italic">nonK666N</text>
<line x1="102.70" y1="329.80" x2="108.90" y2="329.80" stroke="#3a5c9c" stroke-width="1.1" />
<text x="112.30" y="331.70" font-size="5.3" text-anchor="start" fill="#222" font-weight="normal" stroke="#222" stroke-width="0.1" font-style="italic">K666N</text>
<text x="108.40" y="350.00" font-size="5.4" text-anchor="start" fill="#222" font-weight="normal" stroke="#222" stroke-width="0.08" >p = 0.0012</text>
<line x1="184.70" y1="317.62" x2="184.70" y2="379.30" stroke="#000" stroke-width="1.25" />
<line x1="181.70" y1="378.80" x2="184.70" y2="378.80" stroke="#000" stroke-width="0.9" />
<text x="179.10" y="381.10" font-size="6.4" text-anchor="end" fill="#222" font-weight="normal" stroke="#222" stroke-width="0.12" >0</text>
<line x1="182.90" y1="376.14" x2="184.70" y2="376.14" stroke="#000" stroke-width="0.8" />
<line x1="182.90" y1="373.48" x2="184.70" y2="373.48" stroke="#000" stroke-width="0.8" />
<line x1="182.90" y1="370.82" x2="184.70" y2="370.82" stroke="#000" stroke-width="0.8" />
<line x1="182.90" y1="368.16" x2="184.70" y2="368.16" stroke="#000" stroke-width="0.8" />
<line x1="182.90" y1="365.50" x2="184.70" y2="365.50" stroke="#000" stroke-width="0.8" />
<line x1="182.90" y1="362.84" x2="184.70" y2="362.84" stroke="#000" stroke-width="0.8" />
<line x1="182.90" y1="360.18" x2="184.70" y2="360.18" stroke="#000" stroke-width="0.8" />
<line x1="182.90" y1="357.52" x2="184.70" y2="357.52" stroke="#000" stroke-width="0.8" />
<line x1="182.90" y1="354.86" x2="184.70" y2="354.86" stroke="#000" stroke-width="0.8" />
<line x1="181.70" y1="352.20" x2="184.70" y2="352.20" stroke="#000" stroke-width="0.9" />
<text x="179.10" y="354.50" font-size="6.4" text-anchor="end" fill="#222" font-weight="normal" stroke="#222" stroke-width="0.12" >50</text>
<line x1="182.90" y1="349.54" x2="184.70" y2="349.54" stroke="#000" stroke-width="0.8" />
<line x1="182.90" y1="346.88" x2="184.70" y2="346.88" stroke="#000" stroke-width="0.8" />
<line x1="182.90" y1="344.22" x2="184.70" y2="344.22" stroke="#000" stroke-width="0.8" />
<line x1="182.90" y1="341.56" x2="184.70" y2="341.56" stroke="#000" stroke-width="0.8" />
<line x1="182.90" y1="338.90" x2="184.70" y2="338.90" stroke="#000" stroke-width="0.8" />
<line x1="182.90" y1="336.24" x2="184.70" y2="336.24" stroke="#000" stroke-width="0.8" />
<line x1="182.90" y1="333.58" x2="184.70" y2="333.58" stroke="#000" stroke-width="0.8" />
<line x1="182.90" y1="330.92" x2="184.70" y2="330.92" stroke="#000" stroke-width="0.8" />
<line x1="182.90" y1="328.26" x2="184.70" y2="328.26" stroke="#000" stroke-width="0.8" />
<line x1="181.70" y1="325.60" x2="184.70" y2="325.60" stroke="#000" stroke-width="0.9" />
<text x="179.10" y="327.90" font-size="6.4" text-anchor="end" fill="#222" font-weight="normal" stroke="#222" stroke-width="0.12" >100</text>
<line x1="182.90" y1="322.94" x2="184.70" y2="322.94" stroke="#000" stroke-width="0.8" />
<line x1="182.90" y1="320.28" x2="184.70" y2="320.28" stroke="#000" stroke-width="0.8" />
<line x1="182.90" y1="317.62" x2="184.70" y2="317.62" stroke="#000" stroke-width="0.8" />
<line x1="182.70" y1="378.80" x2="275.50" y2="378.80" stroke="#000" stroke-width="1.25" />
<line x1="184.70" y1="378.80" x2="184.70" y2="381.20" stroke="#000" stroke-width="0.9" />
<text x="184.70" y="390.90" font-size="6.4" text-anchor="middle" fill="#222" font-weight="normal" stroke="#222" stroke-width="0.12" >0</text>
<line x1="206.50" y1="378.80" x2="206.50" y2="381.20" stroke="#000" stroke-width="0.9" />
<text x="206.50" y="390.90" font-size="6.4" text-anchor="middle" fill="#222" font-weight="normal" stroke="#222" stroke-width="0.12" >5</text>
<line x1="228.30" y1="378.80" x2="228.30" y2="381.20" stroke="#000" stroke-width="0.9" />
<text x="228.30" y="390.90" font-size="6.4" text-anchor="middle" fill="#222" font-weight="normal" stroke="#222" stroke-width="0.12" >10</text>
<line x1="250.10" y1="378.80" x2="250.10" y2="381.20" stroke="#000" stroke-width="0.9" />
<text x="250.10" y="390.90" font-size="6.4" text-anchor="middle" fill="#222" font-weight="normal" stroke="#222" stroke-width="0.12" >15</text>
<line x1="271.90" y1="378.80" x2="271.90" y2="381.20" stroke="#000" stroke-width="0.9" />
<text x="271.90" y="390.90" font-size="6.4" text-anchor="middle" fill="#222" font-weight="normal" stroke="#222" stroke-width="0.12" >20</text>
<text transform="translate(159.80,348.50) rotate(-90) scale(0.7,1)" x="0" y="2.77" font-size="7.7" text-anchor="middle" fill="#111" stroke="#111" stroke-width="0.5">Overall survival</text>
<text transform="translate(230.30,402.30) scale(0.62,1)" x="0" y="0" font-size="8.6" text-anchor="middle" fill="#111" stroke="#111" stroke-width="0.5">Years</text>
<text x="173.80" y="311.80" font-size="8.5" letter-spacing="-0.14" fill="#111" stroke="#111" stroke-width="0.3">Higher IPSS-R SF3B1<tspan font-size="5.9" dy="-3.5">MUT</tspan><tspan dy="3.5"> MDS</tspan></text>
<path d="M184.70,325.60 H185.08 V326.84 H185.46 V328.08 H185.83 V329.32 H186.66 V330.92 H187.49 V332.52 H188.01 V340.82 H189.19 V340.82 H189.19 V348.21 H190.80 V348.21 H190.80 V363.80 H206.50 V363.80" fill="none" stroke="#3d5d9a" stroke-width="1.1" stroke-linejoin="miter" stroke-linecap="butt"/>
<path d="M184.70,325.60 H185.26 V326.82 H185.82 V328.05 H186.37 V329.27 H186.93 V330.49 H187.49 V331.72 H188.71 V332.97 H189.93 V334.22 H190.11 V335.54 H190.28 V336.86 H190.46 V338.18 H190.63 V339.50 H190.80 V340.82 H190.88 V342.04 H190.96 V343.27 H191.04 V344.50 H191.12 V345.73 H191.20 V346.96 H191.28 V348.19 H191.36 V349.41 H191.44 V350.64 H191.52 V351.87 H191.60 V353.10 H191.68 V354.33 H198.22 V354.33 H198.22 V363.00 H208.99 V363.00 H208.99 V378.80" fill="none" stroke="#c0103a" stroke-width="1.1" stroke-linejoin="miter" stroke-linecap="butt"/>
<line x1="237.50" y1="320.80" x2="243.70" y2="320.80" stroke="#c0103a" stroke-width="1.1" />
<line x1="240.60" y1="319.90" x2="240.60" y2="321.70" stroke="#c0103a" stroke-width="0.6" />
<line x1="240.60" y1="330.30" x2="240.60" y2="332.10" stroke="#3a5c9c" stroke-width="0.6" />
<text x="247.10" y="322.70" font-size="5.3" text-anchor="start" fill="#222" font-weight="normal" stroke="#222" stroke-width="0.1" font-style="italic">nonK666N</text>
<line x1="237.50" y1="331.20" x2="243.70" y2="331.20" stroke="#3a5c9c" stroke-width="1.1" />
<text x="247.10" y="333.10" font-size="5.3" text-anchor="start" fill="#222" font-weight="normal" stroke="#222" stroke-width="0.1" font-style="italic">K666N</text>
<text x="245.80" y="355.50" font-size="5.4" text-anchor="start" fill="#222" font-weight="normal" stroke="#222" stroke-width="0.08" >p = 0.5128</text>
<line x1="331.70" y1="316.59" x2="331.70" y2="379.30" stroke="#000" stroke-width="1.25" />
<line x1="328.70" y1="378.80" x2="331.70" y2="378.80" stroke="#000" stroke-width="0.9" />
<text x="326.10" y="381.10" font-size="6.4" text-anchor="end" fill="#222" font-weight="normal" stroke="#222" stroke-width="0.12" >0</text>
<line x1="329.90" y1="376.10" x2="331.70" y2="376.10" stroke="#000" stroke-width="0.8" />
<line x1="329.90" y1="373.39" x2="331.70" y2="373.39" stroke="#000" stroke-width="0.8" />
<line x1="329.90" y1="370.69" x2="331.70" y2="370.69" stroke="#000" stroke-width="0.8" />
<line x1="329.90" y1="367.98" x2="331.70" y2="367.98" stroke="#000" stroke-width="0.8" />
<line x1="329.90" y1="365.28" x2="331.70" y2="365.28" stroke="#000" stroke-width="0.8" />
<line x1="329.90" y1="362.57" x2="331.70" y2="362.57" stroke="#000" stroke-width="0.8" />
<line x1="329.90" y1="359.87" x2="331.70" y2="359.87" stroke="#000" stroke-width="0.8" />
<line x1="329.90" y1="357.16" x2="331.70" y2="357.16" stroke="#000" stroke-width="0.8" />
<line x1="329.90" y1="354.45" x2="331.70" y2="354.45" stroke="#000" stroke-width="0.8" />
<line x1="328.70" y1="351.75" x2="331.70" y2="351.75" stroke="#000" stroke-width="0.9" />
<text x="326.10" y="354.05" font-size="6.4" text-anchor="end" fill="#222" font-weight="normal" stroke="#222" stroke-width="0.12" >50</text>
<line x1="329.90" y1="349.05" x2="331.70" y2="349.05" stroke="#000" stroke-width="0.8" />
<line x1="329.90" y1="346.34" x2="331.70" y2="346.34" stroke="#000" stroke-width="0.8" />
<line x1="329.90" y1="343.63" x2="331.70" y2="343.63" stroke="#000" stroke-width="0.8" />
<line x1="329.90" y1="340.93" x2="331.70" y2="340.93" stroke="#000" stroke-width="0.8" />
<line x1="329.90" y1="338.23" x2="331.70" y2="338.23" stroke="#000" stroke-width="0.8" />
<line x1="329.90" y1="335.52" x2="331.70" y2="335.52" stroke="#000" stroke-width="0.8" />
<line x1="329.90" y1="332.81" x2="331.70" y2="332.81" stroke="#000" stroke-width="0.8" />
<line x1="329.90" y1="330.11" x2="331.70" y2="330.11" stroke="#000" stroke-width="0.8" />
<line x1="329.90" y1="327.41" x2="331.70" y2="327.41" stroke="#000" stroke-width="0.8" />
<line x1="328.70" y1="324.70" x2="331.70" y2="324.70" stroke="#000" stroke-width="0.9" />
<text x="326.10" y="327.00" font-size="6.4" text-anchor="end" fill="#222" font-weight="normal" stroke="#222" stroke-width="0.12" >100</text>
<line x1="329.90" y1="322.00" x2="331.70" y2="322.00" stroke="#000" stroke-width="0.8" />
<line x1="329.90" y1="319.29" x2="331.70" y2="319.29" stroke="#000" stroke-width="0.8" />
<line x1="329.90" y1="316.59" x2="331.70" y2="316.59" stroke="#000" stroke-width="0.8" />
<line x1="329.70" y1="378.80" x2="422.00" y2="378.80" stroke="#000" stroke-width="1.25" />
<line x1="331.70" y1="378.80" x2="331.70" y2="381.20" stroke="#000" stroke-width="0.9" />
<text x="331.70" y="390.90" font-size="6.4" text-anchor="middle" fill="#222" font-weight="normal" stroke="#222" stroke-width="0.12" >0</text>
<line x1="353.85" y1="378.80" x2="353.85" y2="381.20" stroke="#000" stroke-width="0.9" />
<text x="353.85" y="390.90" font-size="6.4" text-anchor="middle" fill="#222" font-weight="normal" stroke="#222" stroke-width="0.12" >5</text>
<line x1="376.00" y1="378.80" x2="376.00" y2="381.20" stroke="#000" stroke-width="0.9" />
<text x="376.00" y="390.90" font-size="6.4" text-anchor="middle" fill="#222" font-weight="normal" stroke="#222" stroke-width="0.12" >10</text>
<line x1="398.15" y1="378.80" x2="398.15" y2="381.20" stroke="#000" stroke-width="0.9" />
<text x="398.15" y="390.90" font-size="6.4" text-anchor="middle" fill="#222" font-weight="normal" stroke="#222" stroke-width="0.12" >15</text>
<line x1="420.30" y1="378.80" x2="420.30" y2="381.20" stroke="#000" stroke-width="0.9" />
<text x="420.30" y="390.90" font-size="6.4" text-anchor="middle" fill="#222" font-weight="normal" stroke="#222" stroke-width="0.12" >20</text>
<text transform="translate(305.90,348.50) rotate(-90) scale(0.7,1)" x="0" y="2.77" font-size="7.7" text-anchor="middle" fill="#111" stroke="#111" stroke-width="0.5">Overall survival</text>
<text transform="translate(378.00,402.30) scale(0.62,1)" x="0" y="0" font-size="8.6" text-anchor="middle" fill="#111" stroke="#111" stroke-width="0.5">Years</text>
<text x="321.20" y="312.00" font-size="8.5" letter-spacing="-0.14" fill="#111" stroke="#111" stroke-width="0.3">Lower IPSS-R SF3B1<tspan font-size="5.9" dy="-3.5">MUT</tspan><tspan dy="3.5"> MDS</tspan></text>
<path d="M331.70,324.70 H332.97 V325.06 H334.24 V325.42 H335.51 V325.78 H336.13 V325.78 H336.13 V335.52 H341.14 V335.52 H341.14 V342.01 H341.89 V342.01 H341.89 V348.94 H357.62 V348.94 H357.62 V363.92 H364.92 V363.92" fill="none" stroke="#3d5d9a" stroke-width="1.1" stroke-linejoin="miter" stroke-linecap="butt"/>
<path d="M331.70,324.70 H332.97 V325.06 H334.24 V325.42 H335.51 V325.78 H336.75 V326.43 H337.99 V327.08 H339.28 V328.60 H340.56 V330.11 H341.83 V331.16 H343.10 V332.20 H344.37 V333.25 H345.64 V334.10 H346.91 V334.94 H348.18 V335.79 H349.43 V336.43 H350.68 V337.06 H351.93 V337.70 H353.19 V338.33 H354.66 V339.31 H356.14 V340.28 H357.62 V341.25 H372.19 V341.25 H372.19 V344.88 H415.87 V344.88" fill="none" stroke="#c0103a" stroke-width="1.2" stroke-linejoin="miter" stroke-linecap="butt"/>
<line x1="333.47" y1="324.20" x2="333.47" y2="326.20" stroke="#c0103a" stroke-width="0.7" />
<line x1="337.02" y1="325.57" x2="337.02" y2="327.57" stroke="#c0103a" stroke-width="0.7" />
<line x1="339.23" y1="327.54" x2="339.23" y2="329.54" stroke="#c0103a" stroke-width="0.7" />
<line x1="341.89" y1="330.20" x2="341.89" y2="332.20" stroke="#c0103a" stroke-width="0.7" />
<line x1="343.22" y1="331.30" x2="343.22" y2="333.30" stroke="#c0103a" stroke-width="0.7" />
<line x1="345.43" y1="332.96" x2="345.43" y2="334.96" stroke="#c0103a" stroke-width="0.7" />
<line x1="346.76" y1="333.84" x2="346.76" y2="335.84" stroke="#c0103a" stroke-width="0.7" />
<line x1="349.42" y1="335.42" x2="349.42" y2="337.42" stroke="#c0103a" stroke-width="0.7" />
<line x1="351.19" y1="336.32" x2="351.19" y2="338.32" stroke="#c0103a" stroke-width="0.7" />
<line x1="354.74" y1="338.36" x2="354.74" y2="340.36" stroke="#c0103a" stroke-width="0.7" />
<line x1="356.51" y1="339.52" x2="356.51" y2="341.52" stroke="#c0103a" stroke-width="0.7" />
<line x1="359.61" y1="340.25" x2="359.61" y2="342.25" stroke="#c0103a" stroke-width="0.7" />
<line x1="362.71" y1="340.25" x2="362.71" y2="342.25" stroke="#c0103a" stroke-width="0.7" />
<line x1="366.25" y1="340.25" x2="366.25" y2="342.25" stroke="#c0103a" stroke-width="0.7" />
<line x1="369.36" y1="340.25" x2="369.36" y2="342.25" stroke="#c0103a" stroke-width="0.7" />
<line x1="375.11" y1="343.88" x2="375.11" y2="345.88" stroke="#c0103a" stroke-width="0.7" />
<line x1="378.66" y1="343.88" x2="378.66" y2="345.88" stroke="#c0103a" stroke-width="0.7" />
<line x1="381.76" y1="343.88" x2="381.76" y2="345.88" stroke="#c0103a" stroke-width="0.7" />
<line x1="385.30" y1="343.88" x2="385.30" y2="345.88" stroke="#c0103a" stroke-width="0.7" />
<line x1="391.50" y1="343.88" x2="391.50" y2="345.88" stroke="#c0103a" stroke-width="0.7" />
<line x1="397.71" y1="343.88" x2="397.71" y2="345.88" stroke="#c0103a" stroke-width="0.7" />
<line x1="405.24" y1="343.88" x2="405.24" y2="345.88" stroke="#c0103a" stroke-width="0.7" />
<line x1="411.44" y1="343.88" x2="411.44" y2="345.88" stroke="#c0103a" stroke-width="0.7" />
<line x1="347.65" y1="347.94" x2="347.65" y2="349.94" stroke="#3d5d9a" stroke-width="0.7" />
<line x1="385.30" y1="320.30" x2="391.50" y2="320.30" stroke="#c0103a" stroke-width="1.1" />
<line x1="388.40" y1="319.40" x2="388.40" y2="321.20" stroke="#c0103a" stroke-width="0.6" />
<line x1="388.40" y1="328.80" x2="388.40" y2="330.60" stroke="#3a5c9c" stroke-width="0.6" />
<text x="394.90" y="322.20" font-size="5.3" text-anchor="start" fill="#222" font-weight="normal" stroke="#222" stroke-width="0.1" font-style="italic">nonK666N</text>
<line x1="385.30" y1="329.70" x2="391.50" y2="329.70" stroke="#3a5c9c" stroke-width="1.1" />
<text x="394.90" y="331.60" font-size="5.3" text-anchor="start" fill="#222" font-weight="normal" stroke="#222" stroke-width="0.1" font-style="italic">K666N</text>
<text x="377.00" y="355.00" font-size="5.0" text-anchor="start" fill="#222" font-weight="normal" stroke="#222" stroke-width="0.08" >univar p = 0.0181</text>
<text x="377.00" y="365.30" font-size="5.0" text-anchor="start" fill="#222" font-weight="normal" stroke="#222" stroke-width="0.08" >multivar p = 0.034</text>
</g>
</svg></body></html>
